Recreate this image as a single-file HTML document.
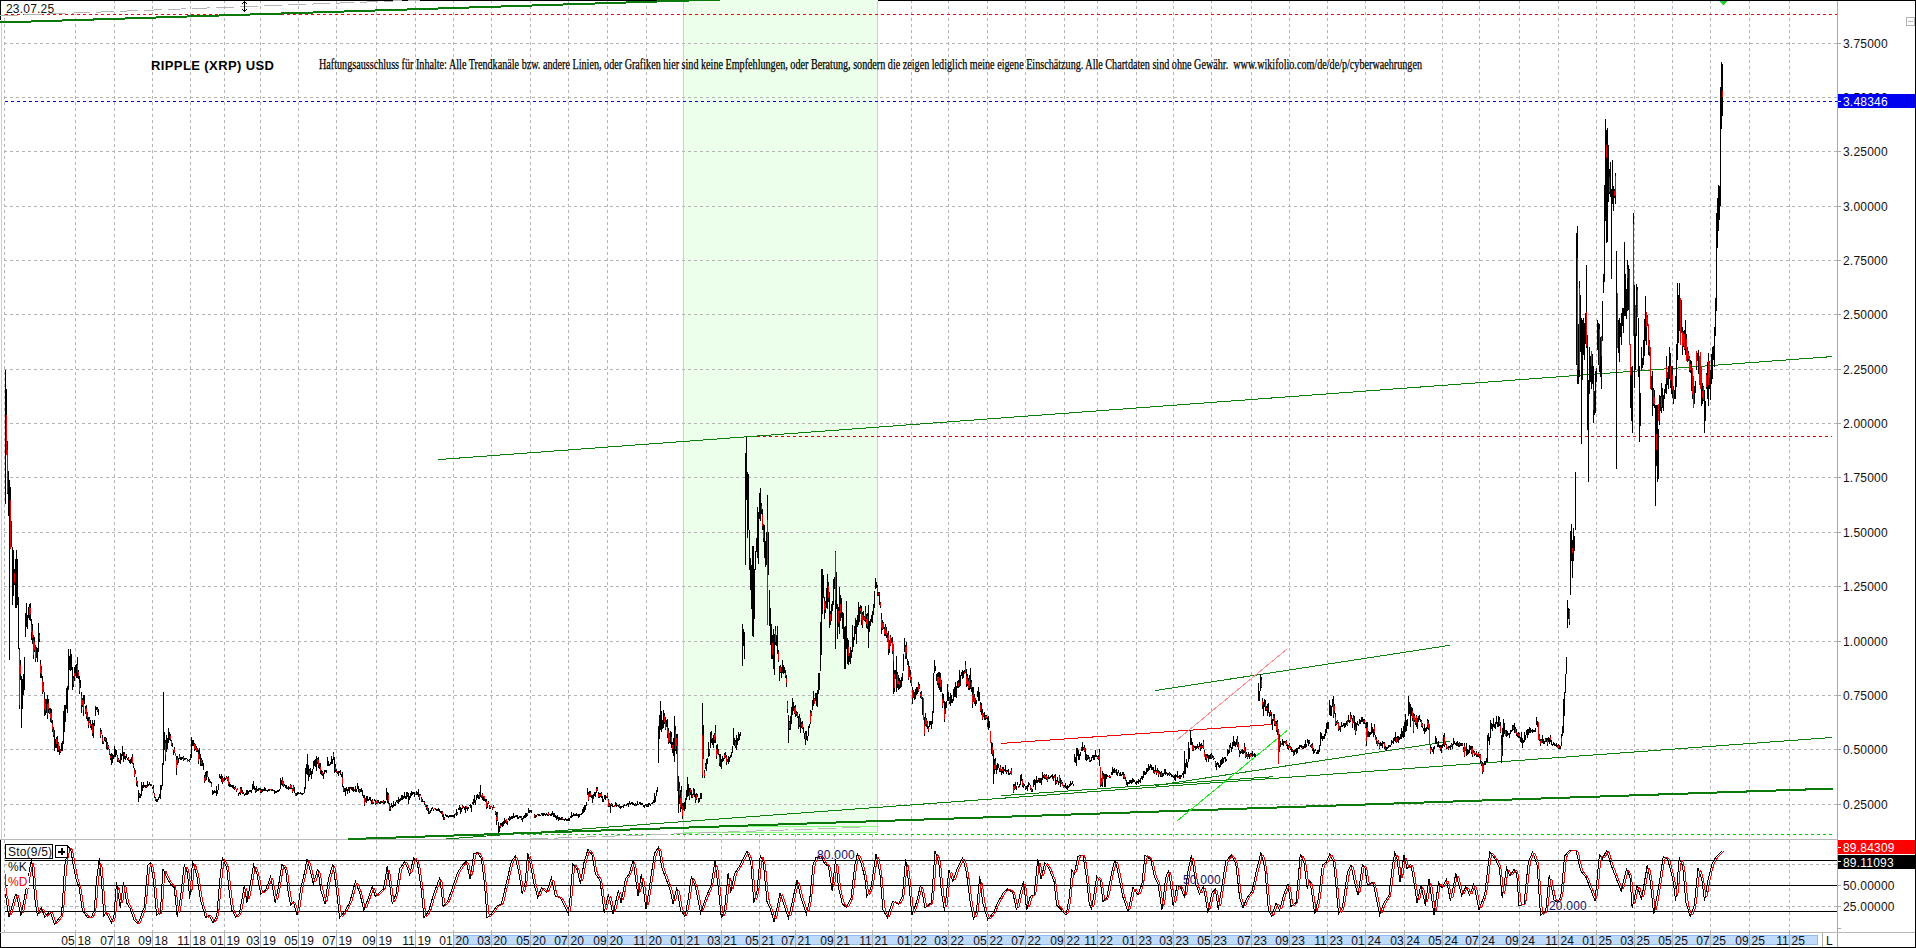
<!DOCTYPE html>
<html><head><meta charset="utf-8"><title>RIPPLE (XRP) USD</title>
<style>
html,body{margin:0;padding:0;background:#fff;}
body{width:1916px;height:948px;position:relative;overflow:hidden;font-family:"Liberation Sans",sans-serif;}
.t{position:absolute;font-family:"Liberation Sans",sans-serif;font-size:12px;line-height:14px;color:#111;white-space:pre;letter-spacing:0.2px;}
.t.w{color:#fff;}
</style></head><body>
<svg width="1916" height="948" viewBox="0 0 1916 948" style="position:absolute;left:0;top:0">
<rect width="1916" height="948" fill="#fff"/>
<g shape-rendering="crispEdges" stroke="#b4b4b4" stroke-width="1" fill="none">
<path d="M4.5 0V932 M75.5 0V932 M114.5 0V932 M152.5 0V932 M190.5 0V932 M224.5 0V932 M260.5 0V932 M298.5 0V932 M336.5 0V932 M376.5 0V932 M415.5 0V932 M453.5 0V932 M491.5 0V932 M530.5 0V932 M568.5 0V932 M607.5 0V932 M646.5 0V932 M684.5 0V932 M721.5 0V932 M759.5 0V932 M795.5 0V932 M834.5 0V932 M872.5 0V932 M911.5 0V932 M948.5 0V932 M987.5 0V932 M1025.5 0V932 M1064.5 0V932 M1097.5 0V932 M1136.5 0V932 M1173.5 0V932 M1211.5 0V932 M1251.5 0V932 M1289.5 0V932 M1327.5 0V932 M1365.5 0V932 M1404.5 0V932 M1442.5 0V932 M1479.5 0V932 M1519.5 0V932 M1558.5 0V932 M1596.5 0V932 M1634.5 0V932 M1672.5 0V932 M1710.5 0V932 M1749.5 0V932 M1789.5 0V932" stroke-dasharray="3 3"/>
</g>
<rect x="1" y="1" width="80" height="13" fill="#fff"/>
<rect x="683.5" y="-1" width="194" height="833" fill="#ebffeb" stroke="#8aff80" stroke-width="1" shape-rendering="crispEdges"/>
<g shape-rendering="crispEdges" stroke="#b4b4b4" stroke-width="1" fill="none">
<path d="M4 43.5H1837 M4 97.5H1837 M4 151.5H1837 M4 206.5H1837 M4 260.5H1837 M4 314.5H1837 M4 369.5H1837 M4 423.5H1837 M4 477.5H1837 M4 532.5H1837 M4 586.5H1837 M4 641.5H1837 M4 695.5H1837 M4 749.5H1837 M4 804.5H1837 M4 864.5H1837 M4 906.5H1837" stroke-dasharray="3 3"/>
</g>
<g shape-rendering="crispEdges">
<rect x="0" y="0" width="1916" height="1" fill="#000"/>
<rect x="683" y="0" width="195" height="1" fill="#ebffeb"/>
<rect x="1915" y="0" width="1" height="948" fill="#000"/>
<rect x="0" y="947" width="1916" height="1" fill="#000"/>
<rect x="0" y="0" width="1" height="20" fill="#000"/>
<rect x="0" y="840" width="1" height="108" fill="#000"/>
<rect x="1" y="20" width="1" height="819" fill="#8aff80"/>
<rect x="1837" y="1" width="1" height="946" fill="#a8a8a8"/>
<rect x="0" y="839" width="1837" height="1" fill="#b8b8b8"/>
<rect x="0" y="932" width="1915" height="1" fill="#b8b8b8"/>
</g>
<g shape-rendering="crispEdges" fill="none" stroke-width="1">
<path d="M5 14.5H1837" stroke="#f00" stroke-dasharray="3 3"/>
<path d="M5 101.5H1841" stroke="#0000e0" stroke-dasharray="3 3"/>
<path d="M757 436.5H1832" stroke="#e00000" stroke-dasharray="3 3"/>
<path d="M521 834.5H1832" stroke="#00d000" stroke-dasharray="3 3"/>
</g>
<path d="M0 15.8L420 0" stroke="#b4b4b4" stroke-width="1" stroke-dasharray="18 6" fill="none" shape-rendering="crispEdges"/>
<path d="M530 839L864 827.2" stroke="#b8b8b8" stroke-width="1" stroke-dasharray="18 6" fill="none" shape-rendering="crispEdges"/>
<path d="M749 826.5H877" stroke="#8aff80" stroke-width="1" fill="none" shape-rendering="crispEdges"/>
<line x1="0" y1="22.5" x2="751.2" y2="-1.5" stroke="#0a7a0a" stroke-width="2" shape-rendering="crispEdges" />
<line x1="438" y1="459.6" x2="1832" y2="356.6" stroke="#0a7f0a" stroke-width="1" shape-rendering="crispEdges" />
<line x1="348" y1="839.13" x2="1833" y2="788.57" stroke="#0a7a0a" stroke-width="2" shape-rendering="crispEdges" />
<line x1="446" y1="838.97" x2="1832" y2="737.5" stroke="#0a7f0a" stroke-width="1" shape-rendering="crispEdges" />
<line x1="1155" y1="690.6" x2="1450" y2="645.3" stroke="#0a7f0a" stroke-width="1" shape-rendering="crispEdges" />
<line x1="1155" y1="785.6" x2="1450" y2="741.3" stroke="#0a7f0a" stroke-width="1" shape-rendering="crispEdges" />
<line x1="1001" y1="795.7" x2="1273" y2="776.7" stroke="#0a7f0a" stroke-width="1.0" shape-rendering="crispEdges" />
<line x1="1001" y1="743.4" x2="1273" y2="724.4" stroke="#f00000" stroke-width="1" shape-rendering="crispEdges" />
<line x1="1177" y1="740" x2="1287" y2="649" stroke="#ff8c8c" stroke-width="1" shape-rendering="crispEdges" />
<line x1="1177" y1="821" x2="1287" y2="730.7" stroke="#10f010" stroke-width="1" shape-rendering="crispEdges" />
<g shape-rendering="crispEdges" fill="none" stroke-width="1">
<path d="M5.5 369.6V504.4 M6.5 388.6V454.4 M7.5 440.6V494.4 M8.5 470.6V516.4 M9.5 480.1V660.4 M10.5 486.6V548.4 M12.5 546.6V605.4 M13.5 549.6V595.9 M15.5 559.1V608.4 M16.5 549.6V608.4 M18.5 597.1V649.4 M19.5 647.6V709.4 M21.5 676.1V728.4 M22.5 679.3V709.4 M24.5 657.2V690.4 M25.5 612.6V637.0 M26.5 603.4V627.4 M28.5 606.6V618.0 M30.5 603.4V621.2 M31.5 619.2V640.1 M33.5 634.6V659.1 M35.5 644.6V662.3 M37.5 647.6V662.3 M38.5 623.3V652.4 M40.5 660.3V678.1 M42.5 676.1V693.9 M44.5 691.6V716.0 M47.5 695.1V719.2 M50.5 707.6V722.4 M52.5 720.4V731.9 M54.5 729.6V750.8 M57.5 736.2V752.4 M59.5 745.6V755.4 M61.5 742.6V750.8 M63.5 710.6V744.4 M65.5 704.6V722.4 M67.5 685.6V712.9 M68.5 649.3V690.4 M70.5 649.3V671.4 M72.5 666.6V690.4 M74.5 666.6V681.4 M76.5 663.5V678.1 M77.5 657.2V678.1 M79.5 676.1V693.9 M81.5 691.6V712.9 M83.5 695.1V716.0 M86.5 704.6V719.2 M88.5 717.2V728.4 M90.5 720.4V728.4 M92.5 720.4V736.4 M94.5 720.3V725.5 M11.5 520.5V547.3 M14.5 568.6V584.5 M17.5 559.3V605.2 M20.5 659.6V679.5 M23.5 674.2V694.7 M27.5 614.9V628.6 M29.5 603.6V619.9 M32.5 624.2V643.6 M34.5 637.3V652.3 M36.5 647.4V657.7 M39.5 632.5V641.6 M41.5 666.4V677.5 M43.5 681.6V692.4 M45.5 698.9V715.1 M46.5 698.8V712.6 M48.5 699.0V713.0 M49.5 707.6V714.4 M51.5 709.1V722.6 M53.5 726.9V737.0 M55.5 739.0V748.2 M56.5 737.0V747.5 M58.5 741.5V751.8 M60.5 749.1V752.5 M62.5 740.5V750.9 M64.5 704.5V732.4 M66.5 687.8V708.8 M69.5 655.7V670.2 M71.5 654.4V670.4 M73.5 675.8V687.0 M75.5 665.4V676.0 M78.5 669.6V679.4 M80.5 680.4V687.5 M82.5 698.2V707.1 M84.5 695.3V704.1 M85.5 705.5V714.0 M87.5 712.1V720.7 M89.5 716.6V723.4 M91.5 723.9V730.3 M93.5 722.8V737.5 M95.5 706.2V716.0 M98.5 709.2V714.5 M96.5 706.7V710.1 M97.5 706.6V712.3 M100.5 728.3V738.2 M102.5 734.6V744.4 M106.5 737.6V749.2 M109.5 748.6V755.4 M112.5 753.6V763.4 M114.5 745.6V757.1 M117.5 755.2V761.9 M120.5 752.9V763.5 M122.5 745.6V756.2 M123.5 751.5V762.1 M125.5 756.4V760.1 M128.5 757.2V760.8 M130.5 758.8V763.7 M132.5 754.4V764.3 M133.5 763.2V768.1 M134.5 767.6V776.8 M136.5 776.6V786.4 M137.5 781.0V787.2 M138.5 789.9V801.9 M139.5 792.7V797.5 M141.5 781.6V796.0 M143.5 782.4V788.0 M145.5 785.1V788.2 M147.5 780.9V786.5 M149.5 782.2V785.3 M151.5 783.6V786.1 M153.5 785.4V793.1 M154.5 792.7V797.5 M155.5 797.0V800.6 M156.5 799.1V801.6 M158.5 796.9V800.0 M160.5 785.4V799.0 M161.5 785.2V789.6 M162.5 763.3V785.7 M163.5 691.6V765.0 M164.5 732.3V750.3 M165.5 739.6V760.6 M166.5 734.5V751.7 M167.5 738.2V748.8 M168.5 727.8V742.9 M169.5 731.5V739.9 M171.5 739.6V745.8 M172.5 743.1V746.8 M173.5 750.4V754.9 M175.5 752.7V756.4 M176.5 755.9V775.4 M177.5 755.9V765.0 M179.5 754.3V759.2 M181.5 757.1V760.2 M183.5 755.8V760.7 M185.5 757.7V760.3 M187.5 759.3V762.4 M189.5 758.6V761.7 M190.5 754.3V760.0 M191.5 736.6V757.7 M192.5 739.6V745.8 M194.5 742.6V751.0 M195.5 744.1V750.3 M196.5 745.6V751.7 M198.5 750.0V763.6 M199.5 747.8V759.1 M200.5 754.4V765.8 M202.5 760.3V766.4 M203.5 763.3V770.2 M204.5 775.1V782.8 M205.5 772.1V781.3 M206.5 771.4V779.8 M208.5 776.5V782.1 M209.5 779.4V783.0 M211.5 782.4V787.3 M101.5 729.9V734.0 M103.5 740.5V744.0 M104.5 737.1V741.3 M105.5 736.6V742.2 M107.5 742.0V750.1 M108.5 745.2V748.5 M110.5 753.9V760.3 M111.5 752.7V764.6 M113.5 754.9V758.5 M115.5 749.2V757.4 M116.5 749.9V754.7 M118.5 758.2V762.2 M119.5 759.8V762.6 M121.5 754.0V759.9 M124.5 751.9V758.5 M126.5 754.2V758.0 M127.5 758.2V760.1 M129.5 760.1V762.5 M131.5 757.3V762.7 M135.5 769.8V773.9 M140.5 794.0V797.7 M142.5 785.2V791.4 M144.5 785.3V787.2 M146.5 785.2V788.0 M148.5 783.6V786.0 M150.5 783.9V786.1 M152.5 786.8V789.4 M157.5 798.8V802.3 M159.5 794.1V797.8 M170.5 734.3V740.9 M174.5 746.6V753.0 M178.5 757.5V763.2 M180.5 757.3V759.8 M182.5 757.0V758.7 M184.5 757.6V759.7 M186.5 757.8V759.4 M188.5 759.8V761.4 M193.5 740.4V745.7 M197.5 748.0V752.4 M201.5 758.0V765.5 M207.5 771.4V777.2 M210.5 780.5V783.3 M212.5 790.4V794.8 M214.5 790.3V793.4 M216.5 786.2V796.0 M218.5 783.9V789.5 M213.5 791.4V793.9 M215.5 791.0V792.8 M217.5 789.8V794.0 M219.5 773.5V778.4 M221.5 774.4V782.0 M222.5 775.8V784.2 M224.5 776.5V781.4 M226.5 776.3V779.4 M228.5 775.8V785.7 M230.5 784.3V786.8 M232.5 785.0V787.6 M234.5 787.2V789.8 M237.5 788.0V789.8 M238.5 792.5V795.6 M240.5 786.9V794.6 M242.5 790.4V794.0 M244.5 793.9V795.7 M246.5 789.8V794.7 M248.5 790.9V793.5 M251.5 790.2V792.8 M252.5 783.9V789.5 M254.5 786.0V789.6 M256.5 786.1V791.7 M258.5 788.0V790.5 M261.5 788.9V792.6 M263.5 788.7V790.5 M266.5 789.5V791.3 M269.5 788.7V790.8 M272.5 789.2V790.8 M274.5 790.4V794.0 M276.5 790.9V792.8 M278.5 790.2V792.0 M280.5 778.0V789.4 M282.5 776.6V785.7 M283.5 780.9V786.5 M286.5 785.2V788.9 M288.5 786.0V789.6 M290.5 783.9V788.8 M292.5 787.5V793.2 M295.5 792.6V796.2 M297.5 792.4V795.0 M300.5 792.4V794.2 M303.5 792.7V794.2 M304.5 786.9V793.1 M305.5 767.6V788.7 M307.5 754.4V775.4 M308.5 764.8V781.3 M310.5 767.6V775.4 M311.5 770.6V779.1 M313.5 761.1V769.4 M315.5 758.9V767.3 M316.5 755.9V770.9 M318.5 757.4V768.0 M320.5 763.3V773.9 M322.5 770.5V775.5 M324.5 770.3V773.5 M326.5 769.6V772.7 M327.5 757.4V766.4 M329.5 763.6V766.2 M331.5 755.9V763.6 M333.5 751.5V759.9 M334.5 757.4V773.2 M336.5 769.0V773.4 M338.5 770.5V776.2 M340.5 769.6V775.4 M342.5 771.6V787.1 M343.5 786.2V792.4 M345.5 788.3V795.9 M349.5 787.1V792.5 M353.5 787.0V791.5 M358.5 786.2V792.4 M362.5 790.3V795.5 M364.5 794.6V805.9 M367.5 796.4V800.9 M372.5 798.5V803.9 M376.5 800.5V804.1 M380.5 800.5V803.7 M384.5 800.5V803.7 M386.5 787.9V799.6 M388.5 792.5V803.8 M389.5 802.9V811.1 M391.5 802.7V807.1 M395.5 801.7V806.1 M398.5 796.6V803.8 M401.5 795.4V799.8 M404.5 792.4V797.5 M408.5 792.5V803.8 M411.5 791.2V795.6 M414.5 792.3V796.6 M418.5 789.3V797.4 M421.5 797.4V801.9 M424.5 800.6V805.0 M426.5 804.9V810.1 M428.5 808.1V814.2 M431.5 807.8V810.7 M435.5 808.2V810.4 M439.5 808.8V811.5 M442.5 811.1V816.5 M443.5 814.3V819.5 M447.5 815.0V817.1 M451.5 815.4V817.1 M454.5 814.1V817.7 M456.5 809.2V816.4 M459.5 804.9V810.1 M462.5 804.8V809.2 M467.5 806.9V811.3 M470.5 803.7V808.2 M473.5 798.6V804.8 M476.5 795.4V799.8 M478.5 795.3V798.7 M480.5 784.6V797.4 M482.5 792.5V799.6 M484.5 795.5V800.8 M486.5 798.6V809.0 M490.5 805.7V809.3 M493.5 804.7V808.3 M495.5 810.9V814.5 M496.5 812.3V824.7 M498.5 821.6V833.0 M500.5 823.4V828.0 M503.5 820.5V825.8 M506.5 818.5V823.7 M509.5 816.3V820.6 M513.5 813.1V817.6 M517.5 815.1V818.7 M521.5 816.2V819.7 M525.5 813.1V817.6 M528.5 807.5V813.2 M531.5 809.8V812.5 M220.5 775.7V779.2 M223.5 778.2V782.4 M225.5 777.8V780.4 M227.5 777.2V780.5 M229.5 782.4V786.8 M231.5 785.2V786.8 M233.5 785.3V788.7 M235.5 785.6V788.9 M236.5 788.5V791.7 M239.5 791.9V794.2 M241.5 786.6V792.5 M243.5 791.8V793.7 M245.5 793.1V794.8 M247.5 790.4V795.3 M249.5 790.3V792.1 M250.5 790.1V791.7 M253.5 781.3V788.7 M255.5 787.9V793.1 M257.5 789.0V790.9 M259.5 788.4V790.0 M260.5 788.3V793.3 M262.5 788.6V791.6 M264.5 787.4V790.5 M265.5 788.3V791.3 M267.5 789.9V791.5 M268.5 789.3V790.9 M270.5 788.5V790.1 M271.5 788.6V790.9 M273.5 789.8V791.4 M275.5 790.5V792.8 M277.5 789.8V792.3 M279.5 789.4V791.0 M281.5 780.2V784.7 M284.5 784.0V786.2 M285.5 785.1V787.9 M287.5 786.7V789.0 M289.5 787.2V789.4 M291.5 785.2V788.6 M293.5 784.6V790.5 M294.5 787.0V792.6 M296.5 793.2V795.7 M298.5 792.4V794.0 M299.5 792.6V794.2 M301.5 793.1V794.7 M302.5 793.2V794.8 M306.5 763.8V773.8 M309.5 768.8V776.9 M312.5 769.0V773.9 M314.5 759.7V765.9 M317.5 757.5V764.1 M319.5 763.1V769.2 M321.5 769.8V775.4 M323.5 773.0V778.5 M325.5 769.6V771.7 M328.5 760.5V766.1 M330.5 762.2V764.6 M332.5 759.0V763.5 M335.5 763.5V772.1 M337.5 770.9V774.2 M339.5 770.6V772.7 M341.5 774.0V777.0 M344.5 788.1V792.3 M346.5 787.1V791.4 M347.5 788.7V793.5 M348.5 786.6V790.7 M350.5 786.9V789.3 M351.5 786.7V790.3 M352.5 787.4V791.4 M354.5 788.5V791.3 M355.5 785.9V791.5 M356.5 788.9V791.5 M357.5 782.7V789.1 M359.5 788.5V792.7 M360.5 789.2V792.2 M361.5 788.3V791.6 M363.5 795.0V797.8 M365.5 798.0V801.6 M366.5 795.9V802.6 M368.5 799.2V801.2 M369.5 796.6V799.7 M370.5 796.6V800.7 M371.5 800.4V803.6 M373.5 801.7V804.0 M374.5 799.3V801.0 M375.5 800.2V804.7 M377.5 799.7V804.0 M378.5 800.0V802.6 M379.5 801.9V804.3 M381.5 801.0V802.7 M382.5 800.7V802.8 M383.5 800.3V804.3 M385.5 800.7V803.1 M387.5 792.2V803.3 M390.5 805.5V811.4 M392.5 804.7V807.6 M393.5 800.8V806.6 M394.5 803.7V806.3 M396.5 799.7V802.3 M397.5 800.0V802.6 M399.5 798.9V802.1 M400.5 797.9V800.6 M402.5 795.2V800.1 M403.5 796.4V798.6 M405.5 795.7V798.5 M406.5 792.2V799.3 M407.5 792.2V796.7 M409.5 795.7V800.4 M410.5 792.7V798.4 M412.5 791.8V794.5 M413.5 792.3V794.0 M415.5 793.5V795.3 M416.5 790.8V795.1 M417.5 791.8V794.9 M419.5 793.6V799.5 M420.5 794.3V796.4 M422.5 798.8V802.3 M423.5 800.5V802.1 M425.5 803.6V807.1 M427.5 805.0V810.7 M429.5 810.6V814.4 M430.5 809.5V812.5 M432.5 807.4V809.2 M433.5 809.3V810.9 M434.5 807.8V809.4 M436.5 808.9V811.3 M437.5 808.9V810.5 M438.5 808.0V810.8 M440.5 811.0V812.8 M441.5 810.6V814.0 M444.5 817.2V819.6 M445.5 814.2V816.2 M446.5 815.1V817.2 M448.5 815.9V817.5 M449.5 815.1V816.7 M450.5 815.0V816.6 M452.5 815.4V817.0 M453.5 814.6V816.8 M455.5 813.0V815.2 M457.5 812.1V815.4 M458.5 807.5V810.2 M460.5 807.3V813.7 M461.5 807.8V811.9 M463.5 805.9V807.6 M464.5 806.6V810.1 M465.5 805.8V812.9 M466.5 805.5V808.7 M468.5 806.5V808.9 M469.5 804.5V806.4 M471.5 805.0V811.7 M472.5 801.5V804.1 M474.5 794.9V802.7 M475.5 799.6V805.2 M477.5 794.4V797.7 M479.5 791.5V798.5 M481.5 794.5V798.2 M483.5 796.3V800.9 M485.5 799.2V802.0 M487.5 803.2V807.8 M488.5 800.7V804.4 M489.5 804.6V809.1 M491.5 805.8V807.4 M492.5 806.6V809.6 M494.5 806.7V808.4 M497.5 811.9V821.2 M499.5 825.6V831.9 M501.5 823.1V826.2 M502.5 821.8V826.7 M504.5 818.0V823.8 M505.5 819.9V823.2 M507.5 820.6V824.7 M508.5 817.6V819.6 M510.5 816.6V819.6 M511.5 816.4V818.9 M512.5 815.8V819.0 M514.5 815.9V817.6 M515.5 814.5V817.0 M516.5 815.0V816.7 M518.5 817.3V818.9 M519.5 816.2V818.0 M520.5 815.9V818.0 M522.5 817.5V822.1 M523.5 816.4V819.3 M524.5 814.9V818.3 M526.5 812.9V816.8 M527.5 812.9V815.7 M529.5 810.2V812.8 M530.5 810.1V811.9 M534.5 814.1V817.7 M539.5 814.0V816.3 M543.5 813.2V815.7 M548.5 812.0V815.6 M553.5 813.3V816.7 M557.5 815.1V818.7 M562.5 817.2V819.8 M566.5 818.8V820.8 M569.5 818.2V820.8 M571.5 812.3V818.4 M575.5 814.0V816.3 M579.5 814.1V816.7 M582.5 809.1V814.3 M585.5 804.9V810.1 M586.5 802.3V806.1 M535.5 814.7V818.0 M536.5 815.1V816.7 M537.5 813.7V815.3 M538.5 813.9V815.7 M540.5 814.7V816.3 M541.5 813.3V814.9 M542.5 813.0V815.7 M544.5 813.3V815.1 M545.5 814.3V815.9 M546.5 812.8V814.8 M547.5 813.8V816.4 M549.5 813.7V815.3 M550.5 814.4V816.0 M551.5 812.8V815.5 M552.5 810.7V814.8 M554.5 812.8V817.3 M555.5 814.7V818.2 M556.5 816.0V820.2 M558.5 816.8V820.9 M559.5 817.1V819.8 M560.5 817.9V819.5 M561.5 817.2V819.5 M563.5 818.5V820.1 M564.5 818.9V820.5 M565.5 818.2V819.8 M567.5 818.7V821.4 M568.5 818.0V821.1 M570.5 815.5V818.3 M572.5 814.6V816.9 M573.5 813.1V816.2 M574.5 813.8V816.2 M576.5 812.8V815.9 M577.5 814.0V815.6 M578.5 814.3V817.6 M580.5 813.5V815.1 M581.5 812.9V814.5 M583.5 807.3V813.0 M584.5 804.5V811.5 M587.5 788.3V795.4 M590.5 791.3V796.5 M593.5 793.5V799.2 M595.5 792.3V796.6 M596.5 787.2V793.4 M599.5 793.3V797.6 M602.5 795.6V801.7 M605.5 795.4V799.8 M607.5 792.5V798.4 M608.5 798.6V806.9 M612.5 803.6V807.2 M616.5 802.7V806.5 M620.5 805.7V809.3 M623.5 804.7V808.3 M627.5 802.5V805.2 M632.5 802.2V805.1 M636.5 803.6V806.2 M640.5 801.6V805.1 M644.5 804.7V807.7 M648.5 802.7V806.5 M652.5 801.5V804.2 M654.5 792.5V802.7 M656.5 790.3V795.5 M657.5 787.1V792.4 M588.5 792.4V801.3 M589.5 791.3V796.5 M591.5 795.2V797.6 M592.5 794.7V803.4 M594.5 791.9V796.3 M597.5 786.7V791.3 M598.5 792.3V798.2 M600.5 793.1V796.8 M601.5 792.4V797.8 M603.5 799.1V801.7 M604.5 794.8V799.0 M606.5 795.9V797.9 M609.5 803.0V807.1 M610.5 803.5V812.6 M611.5 802.6V805.9 M613.5 805.6V807.4 M614.5 804.7V806.7 M615.5 801.8V806.3 M617.5 804.5V806.4 M618.5 805.0V807.4 M619.5 804.4V808.4 M621.5 806.4V808.4 M622.5 805.5V807.1 M624.5 804.2V805.8 M625.5 804.5V806.1 M626.5 804.2V806.2 M628.5 802.9V806.8 M629.5 800.5V803.9 M630.5 803.2V805.4 M631.5 801.9V803.5 M633.5 802.7V804.6 M634.5 804.3V806.0 M635.5 802.9V806.2 M637.5 801.1V804.8 M638.5 803.5V805.1 M639.5 802.3V803.9 M641.5 803.1V805.2 M642.5 803.3V804.9 M643.5 805.3V806.9 M645.5 803.8V806.0 M646.5 804.3V806.7 M647.5 803.5V807.2 M649.5 803.2V804.8 M650.5 803.6V806.0 M651.5 802.8V804.4 M653.5 799.7V803.2 M655.5 796.4V802.2 M658.5 725.6V763.1 M660.5 700.6V730.4 M661.5 710.6V732.4 M663.5 709.6V728.4 M665.5 717.3V730.4 M667.5 719.4V738.0 M668.5 727.6V744.4 M671.5 731.6V748.4 M673.5 738.2V755.8 M674.5 715.6V762.0 M675.5 725.6V751.4 M677.5 734.0V791.3 M678.5 775.6V813.2 M679.5 782.0V803.8 M680.5 790.4V812.1 M682.5 802.9V818.8 M683.5 802.9V810.0 M685.5 797.6V809.0 M687.5 777.4V797.4 M689.5 788.3V799.6 M691.5 790.4V798.4 M694.5 789.3V797.4 M696.5 792.5V799.6 M698.5 797.5V802.8 M701.5 793.2V799.0 M659.5 714.6V739.3 M662.5 719.7V728.6 M664.5 713.3V724.3 M666.5 719.6V726.9 M669.5 733.2V743.4 M670.5 731.4V744.2 M672.5 742.0V752.9 M676.5 734.1V753.6 M681.5 785.6V808.7 M684.5 801.8V811.1 M686.5 789.5V800.4 M688.5 784.3V795.9 M690.5 787.6V794.6 M692.5 793.8V798.0 M693.5 788.2V794.5 M695.5 793.9V803.3 M697.5 793.9V796.6 M699.5 798.2V802.3 M700.5 793.4V799.4 M702.5 702.6V778.1 M704.5 769.6V778.1 M706.5 758.6V771.4 M708.5 742.2V757.4 M711.5 730.6V743.4 M713.5 735.2V747.9 M715.5 724.6V743.4 M716.5 744.6V759.4 M719.5 753.6V766.4 M722.5 756.1V761.9 M724.5 752.6V759.4 M728.5 756.1V764.4 M731.5 751.6V757.4 M733.5 728.2V745.4 M736.5 735.2V750.4 M738.5 731.6V741.0 M740.5 732.3V735.7 M703.5 725.1V758.7 M705.5 763.2V768.9 M707.5 758.0V764.2 M709.5 748.6V755.6 M710.5 731.5V748.3 M712.5 738.2V744.9 M714.5 733.1V743.2 M717.5 744.0V754.4 M718.5 749.3V754.8 M720.5 753.5V766.9 M721.5 758.7V768.7 M723.5 758.2V761.4 M725.5 752.4V758.0 M726.5 754.9V764.7 M727.5 758.7V761.7 M729.5 756.8V762.4 M730.5 754.6V758.4 M732.5 745.8V753.3 M734.5 738.3V745.7 M735.5 739.8V747.8 M737.5 737.7V745.1 M739.5 733.8V739.7 M742.5 623.6V666.4 M744.5 631.6V659.4 M743.5 629.0V645.6 M745.5 453.1V565.4 M746.5 436.6V500.4 M748.5 473.6V530.4 M749.5 529.6V570.4 M750.5 557.6V590.0 M752.5 545.6V636.4 M755.5 550.6V570.4 M757.5 506.6V558.4 M760.5 487.6V521.4 M762.5 508.6V530.4 M764.5 524.6V558.4 M766.5 531.6V565.4 M767.5 494.6V624.9 M769.5 589.6V625.9 M770.5 607.6V645.4 M771.5 623.6V659.4 M773.5 628.6V669.4 M775.5 625.6V645.4 M777.5 625.6V654.4 M779.5 665.6V681.4 M782.5 659.6V673.4 M785.5 670.2V678.4 M786.5 674.6V687.4 M747.5 472.1V537.8 M751.5 565.1V609.2 M753.5 546.2V636.6 M754.5 569.0V618.7 M756.5 537.6V551.7 M758.5 512.0V563.6 M759.5 493.4V519.4 M761.5 503.4V513.7 M763.5 524.1V542.0 M765.5 540.6V567.4 M768.5 532.1V575.1 M772.5 635.2V659.1 M774.5 634.3V674.7 M776.5 635.0V646.4 M778.5 649.8V661.5 M780.5 665.3V673.2 M781.5 667.0V677.6 M783.5 665.3V674.3 M784.5 667.2V672.8 M787.5 700.6V713.4 M788.5 714.6V743.4 M791.5 707.3V724.4 M792.5 698.1V715.4 M795.5 704.6V717.4 M799.5 714.3V727.0 M802.5 721.3V729.4 M805.5 730.6V745.1 M808.5 725.6V736.4 M810.5 709.6V724.4 M813.5 691.1V706.1 M816.5 693.4V706.1 M818.5 672.6V694.4 M820.5 621.6V671.4 M821.5 569.1V655.1 M822.5 569.1V614.4 M824.5 596.6V619.0 M827.5 573.6V609.4 M829.5 592.3V628.4 M831.5 603.6V621.4 M833.5 578.6V605.1 M835.5 550.6V649.4 M837.5 603.6V639.4 M839.5 586.6V634.4 M842.5 612.2V629.4 M843.5 613.2V639.4 M845.5 626.1V669.0 M847.5 637.6V664.4 M850.5 646.6V664.4 M852.5 624.6V652.4 M855.5 617.6V634.4 M858.5 601.6V624.9 M861.5 606.3V624.9 M865.5 606.3V622.4 M868.5 605.2V648.1 M871.5 614.6V622.4 M872.5 610.6V623.4 M874.5 591.2V608.4 M875.5 578.4V588.8 M877.5 585.4V595.8 M879.5 592.3V605.1 M881.5 613.4V634.2 M885.5 623.6V636.4 M888.5 630.6V655.1 M890.5 635.4V645.8 M893.5 644.6V694.4 M896.5 656.3V692.4 M898.5 674.6V689.9 M901.5 677.2V687.4 M903.5 653.6V671.4 M904.5 637.6V652.4 M906.5 642.4V659.4 M908.5 660.6V680.4 M910.5 670.2V682.9 M912.5 686.6V703.8 M915.5 688.6V699.4 M918.5 681.6V692.4 M921.5 691.1V699.4 M923.5 698.1V720.1 M924.5 716.6V736.4 M927.5 721.3V729.4 M931.5 721.3V729.4 M933.5 672.6V713.1 M934.5 659.6V673.4 M937.5 672.6V685.4 M940.5 672.6V692.4 M942.5 693.4V708.4 M944.5 700.6V722.4 M947.5 684.1V701.4 M950.5 693.4V706.1 M953.5 688.6V701.4 M955.5 681.6V696.9 M959.5 670.2V687.4 M962.5 670.2V679.4 M965.5 660.6V673.4 M966.5 669.1V687.4 M969.5 674.6V689.9 M972.5 686.6V708.4 M975.5 698.1V706.1 M978.5 686.6V701.4 M981.5 702.6V715.4 M984.5 711.6V720.1 M987.5 716.6V727.0 M988.5 715.6V730.1 M990.5 731.3V742.8 M991.5 741.6V754.4 M993.5 750.3V783.9 M994.5 758.6V774.4 M997.5 762.6V770.4 M1000.5 765.1V772.4 M1003.5 767.2V774.4 M1005.5 765.1V772.4 M1008.5 769.2V774.5 M1011.5 768.2V775.4 M789.5 720.7V730.2 M790.5 716.2V730.1 M793.5 702.2V710.9 M794.5 706.4V714.2 M796.5 710.8V716.1 M797.5 711.7V718.1 M798.5 716.0V728.9 M800.5 717.8V733.2 M801.5 721.8V727.8 M803.5 726.7V732.6 M804.5 732.5V738.5 M806.5 731.0V739.7 M807.5 735.7V740.5 M809.5 723.5V727.7 M811.5 711.4V716.3 M812.5 700.4V710.0 M814.5 698.1V704.2 M815.5 692.9V700.6 M817.5 689.8V706.9 M819.5 672.5V689.5 M823.5 574.5V598.1 M825.5 601.4V613.0 M826.5 587.6V607.8 M828.5 581.9V601.6 M830.5 610.6V624.6 M832.5 601.2V610.6 M834.5 576.8V588.8 M836.5 571.6V608.8 M838.5 606.8V627.0 M840.5 595.1V621.1 M841.5 597.5V618.3 M844.5 626.9V669.1 M846.5 600.7V648.5 M848.5 639.5V664.9 M849.5 652.7V661.9 M851.5 649.8V658.3 M853.5 636.9V646.7 M854.5 626.1V640.0 M856.5 619.5V643.9 M857.5 614.9V626.6 M859.5 606.9V622.4 M860.5 605.4V614.1 M862.5 611.9V628.0 M863.5 610.8V620.3 M864.5 615.7V621.2 M866.5 614.0V628.1 M867.5 612.8V628.9 M869.5 621.2V632.0 M870.5 619.3V625.8 M873.5 604.3V615.0 M876.5 581.7V587.6 M878.5 592.0V595.9 M880.5 601.6V608.2 M882.5 619.8V630.2 M883.5 622.1V629.3 M884.5 627.1V635.8 M886.5 627.1V638.4 M887.5 633.3V642.0 M889.5 639.8V652.5 M891.5 638.0V643.4 M892.5 637.0V654.2 M894.5 670.1V692.1 M895.5 669.9V678.6 M897.5 671.6V688.3 M899.5 677.8V688.9 M900.5 679.9V688.1 M902.5 673.1V680.5 M905.5 644.7V658.8 M907.5 659.1V665.2 M909.5 666.3V676.7 M911.5 676.5V685.8 M913.5 690.4V698.1 M914.5 692.3V699.8 M916.5 687.2V695.3 M917.5 686.6V694.3 M919.5 683.8V689.2 M920.5 692.4V698.0 M922.5 697.2V714.5 M925.5 712.9V726.0 M926.5 717.8V727.0 M928.5 725.8V731.8 M929.5 721.1V726.7 M930.5 721.1V724.6 M932.5 711.3V724.2 M935.5 666.3V671.3 M936.5 673.5V680.6 M938.5 671.5V688.1 M939.5 671.6V690.2 M941.5 680.3V691.8 M943.5 694.2V703.2 M945.5 701.5V713.6 M946.5 700.5V707.9 M948.5 691.6V701.2 M949.5 696.5V703.6 M951.5 694.5V703.3 M952.5 698.7V703.2 M954.5 687.3V696.8 M956.5 685.7V697.6 M957.5 680.9V688.3 M958.5 680.3V688.4 M960.5 675.2V686.1 M961.5 672.4V676.3 M963.5 671.2V677.6 M964.5 670.1V674.2 M967.5 674.0V686.4 M968.5 677.9V689.6 M970.5 667.7V688.6 M971.5 679.5V691.8 M973.5 687.1V702.0 M974.5 694.4V704.1 M976.5 699.9V704.2 M977.5 690.7V697.2 M979.5 691.8V701.3 M980.5 702.4V712.4 M982.5 708.8V719.8 M983.5 712.8V717.0 M985.5 714.5V720.0 M986.5 714.8V718.8 M989.5 721.4V728.1 M992.5 743.1V755.6 M995.5 758.0V770.3 M996.5 764.8V773.8 M998.5 763.6V768.4 M999.5 768.2V772.4 M1001.5 769.1V774.5 M1002.5 767.3V772.7 M1004.5 768.7V771.4 M1006.5 769.8V773.7 M1007.5 769.8V772.1 M1009.5 772.5V774.8 M1010.5 770.5V774.4 M1013.5 784.1V793.4 M1015.5 781.6V789.4 M1019.5 783.8V787.4 M1020.5 774.6V785.0 M1022.5 778.6V787.1 M1025.5 786.0V789.6 M1028.5 781.5V787.2 M1031.5 788.0V791.7 M1033.5 779.6V787.1 M1036.5 775.6V782.9 M1039.5 777.5V783.0 M1041.5 777.6V785.0 M1044.5 773.5V778.5 M1048.5 775.3V778.7 M1052.5 774.4V778.6 M1055.5 773.6V785.0 M1058.5 781.4V785.2 M1060.5 777.6V787.1 M1063.5 784.8V788.4 M1067.5 784.9V789.6 M1070.5 780.5V786.1 M1073.5 783.7V786.4 M1014.5 784.1V789.9 M1016.5 786.4V789.6 M1017.5 782.1V784.9 M1018.5 785.7V788.2 M1021.5 774.3V781.4 M1023.5 782.8V787.6 M1024.5 783.8V785.8 M1026.5 785.6V789.1 M1027.5 785.1V790.7 M1029.5 782.5V785.1 M1030.5 785.0V790.3 M1032.5 788.8V791.9 M1034.5 778.5V784.5 M1035.5 780.3V790.1 M1037.5 780.3V782.9 M1038.5 777.7V781.7 M1040.5 778.2V783.1 M1042.5 772.3V779.6 M1043.5 774.5V778.1 M1045.5 774.8V779.3 M1046.5 774.3V780.1 M1047.5 776.8V782.1 M1049.5 777.1V778.7 M1050.5 775.9V777.6 M1051.5 775.0V776.8 M1053.5 776.4V780.5 M1054.5 775.3V778.4 M1056.5 780.4V783.6 M1057.5 777.3V782.4 M1059.5 774.6V782.9 M1061.5 779.9V784.4 M1062.5 781.9V786.3 M1064.5 785.1V786.7 M1065.5 783.0V787.5 M1066.5 785.6V788.5 M1068.5 785.5V787.7 M1069.5 783.5V787.4 M1071.5 783.3V785.4 M1072.5 781.3V784.3 M1074.5 753.5V761.8 M1076.5 748.2V766.0 M1078.5 750.3V760.4 M1082.5 741.6V751.2 M1085.5 748.2V760.4 M1087.5 754.5V759.5 M1089.5 756.6V762.4 M1094.5 754.5V759.5 M1098.5 755.4V759.6 M1099.5 749.2V766.0 M1100.5 767.2V787.1 M1102.5 771.4V787.1 M1104.5 773.6V787.1 M1106.5 773.5V778.5 M1109.5 775.2V777.8 M1112.5 767.2V775.4 M1116.5 769.2V774.5 M1120.5 772.2V775.7 M1124.5 773.5V778.5 M1126.5 779.5V785.1 M1129.5 780.4V784.1 M1132.5 777.5V783.0 M1136.5 781.4V785.2 M1140.5 777.5V783.0 M1143.5 771.4V778.4 M1146.5 768.2V774.4 M1148.5 764.0V771.3 M1153.5 767.1V772.5 M1157.5 768.0V772.6 M1161.5 771.4V777.4 M1165.5 769.2V774.5 M1169.5 772.2V775.7 M1174.5 774.5V779.5 M1177.5 771.4V778.4 M1180.5 775.3V778.7 M1183.5 771.4V778.4 M1184.5 751.4V774.4 M1186.5 758.6V767.0 M1188.5 741.6V761.8 M1190.5 730.3V744.9 M1192.5 741.6V751.2 M1195.5 745.9V750.4 M1199.5 741.5V747.1 M1203.5 739.6V749.1 M1204.5 750.3V757.4 M1206.5 753.5V761.8 M1210.5 754.4V758.6 M1213.5 756.3V759.7 M1215.5 760.6V767.0 M1218.5 762.8V767.2 M1222.5 756.6V763.9 M1225.5 757.4V762.0 M1229.5 745.0V753.4 M1232.5 741.6V749.1 M1235.5 741.5V747.1 M1237.5 735.6V747.0 M1239.5 750.3V757.4 M1242.5 749.0V753.6 M1244.5 742.9V753.4 M1246.5 752.2V756.6 M1249.5 753.5V759.4 M1252.5 751.4V757.4 M1255.5 754.2V756.8 M1075.5 757.2V763.1 M1077.5 747.7V755.9 M1079.5 754.3V759.9 M1080.5 752.2V756.4 M1081.5 746.8V750.8 M1083.5 746.9V750.3 M1084.5 745.3V751.8 M1086.5 754.3V761.0 M1088.5 755.2V758.9 M1090.5 759.7V762.0 M1091.5 757.1V760.5 M1092.5 754.6V758.0 M1093.5 755.2V760.1 M1095.5 750.3V757.4 M1096.5 754.6V756.7 M1097.5 756.0V758.9 M1101.5 778.3V785.5 M1103.5 773.3V778.5 M1105.5 774.4V786.7 M1107.5 775.4V777.4 M1108.5 775.6V777.3 M1110.5 775.9V777.5 M1111.5 772.4V775.2 M1113.5 768.5V773.1 M1114.5 768.2V773.3 M1115.5 769.8V773.0 M1117.5 771.9V775.6 M1118.5 769.7V773.1 M1119.5 772.9V776.2 M1121.5 773.6V775.7 M1122.5 772.2V774.8 M1123.5 772.4V778.8 M1125.5 777.2V781.0 M1127.5 781.7V785.8 M1128.5 781.9V783.7 M1130.5 780.1V782.8 M1131.5 779.6V783.5 M1133.5 779.2V782.3 M1134.5 780.0V782.3 M1135.5 781.9V783.7 M1137.5 780.6V783.2 M1138.5 779.3V784.1 M1139.5 779.6V782.1 M1141.5 776.0V778.8 M1142.5 775.5V780.3 M1144.5 770.6V775.2 M1145.5 771.5V775.4 M1147.5 768.0V771.8 M1149.5 766.2V769.5 M1150.5 763.8V768.1 M1151.5 765.2V770.1 M1152.5 766.7V770.1 M1154.5 769.6V774.2 M1155.5 765.2V771.8 M1156.5 769.6V774.5 M1158.5 770.0V776.6 M1159.5 771.4V774.2 M1160.5 772.2V776.5 M1162.5 772.9V777.2 M1163.5 772.9V776.3 M1164.5 769.1V773.6 M1166.5 772.1V773.9 M1167.5 772.6V775.5 M1168.5 772.7V775.1 M1170.5 772.6V774.9 M1171.5 774.3V776.5 M1172.5 774.5V776.9 M1173.5 776.0V778.4 M1175.5 774.4V780.6 M1176.5 774.6V777.3 M1178.5 776.1V778.4 M1179.5 775.4V779.2 M1181.5 775.3V777.3 M1182.5 772.9V774.9 M1185.5 762.8V773.8 M1187.5 762.1V767.8 M1189.5 747.7V758.6 M1191.5 738.2V744.5 M1193.5 744.8V751.1 M1194.5 745.8V748.2 M1196.5 746.0V749.0 M1197.5 744.3V748.4 M1198.5 745.6V749.1 M1200.5 743.8V750.7 M1201.5 743.0V749.0 M1202.5 744.9V748.3 M1205.5 754.2V759.6 M1207.5 753.5V757.9 M1208.5 755.2V762.2 M1209.5 755.4V759.1 M1211.5 753.4V759.0 M1212.5 755.4V758.2 M1214.5 757.6V759.2 M1216.5 763.0V770.2 M1217.5 762.0V765.3 M1219.5 764.5V767.5 M1220.5 760.2V767.1 M1221.5 759.1V765.3 M1223.5 758.1V763.4 M1224.5 756.8V759.1 M1226.5 758.5V761.0 M1227.5 748.9V756.1 M1228.5 749.5V754.0 M1230.5 743.3V747.6 M1231.5 746.7V751.6 M1233.5 736.2V746.0 M1234.5 741.4V746.2 M1236.5 739.1V744.9 M1238.5 742.1V749.8 M1240.5 751.2V754.2 M1241.5 750.4V753.0 M1243.5 750.2V753.5 M1245.5 747.1V757.7 M1247.5 753.6V758.5 M1248.5 751.5V756.5 M1250.5 752.8V757.4 M1251.5 752.8V755.5 M1253.5 754.4V756.3 M1254.5 753.1V756.5 M1258.5 682.6V701.4 M1259.5 690.6V701.4 M1260.5 674.4V691.1 M1262.5 697.6V709.0 M1265.5 699.6V711.1 M1268.5 702.6V713.2 M1271.5 712.3V723.8 M1274.5 714.4V725.9 M1276.5 720.6V732.2 M1278.5 729.2V763.9 M1280.5 740.6V747.0 M1283.5 741.4V746.2 M1286.5 739.6V746.0 M1288.5 745.0V750.3 M1291.5 747.0V751.5 M1293.5 750.3V756.4 M1296.5 748.1V753.5 M1299.5 744.9V749.3 M1302.5 745.8V749.4 M1305.5 739.6V748.1 M1308.5 739.6V746.0 M1311.5 743.8V748.3 M1313.5 748.1V753.5 M1317.5 750.0V753.7 M1319.5 745.1V752.3 M1320.5 732.4V746.0 M1322.5 735.5V740.5 M1324.5 734.4V738.6 M1326.5 722.6V733.4 M1328.5 721.6V729.1 M1329.5 699.6V715.4 M1330.5 704.6V716.4 M1333.5 695.5V718.4 M1335.5 713.4V725.9 M1338.5 721.6V731.2 M1341.5 722.4V727.2 M1344.5 723.4V728.2 M1347.5 719.6V725.9 M1350.5 712.4V722.4 M1352.5 717.6V728.0 M1356.5 722.6V731.2 M1359.5 718.5V723.5 M1361.5 716.6V722.4 M1364.5 718.5V723.5 M1366.5 721.6V746.0 M1368.5 731.4V737.4 M1371.5 722.6V734.4 M1373.5 729.2V737.4 M1376.5 736.6V743.9 M1379.5 743.0V749.1 M1382.5 740.6V748.1 M1385.5 745.9V750.4 M1388.5 744.8V748.4 M1391.5 740.4V745.1 M1395.5 732.4V741.8 M1398.5 735.6V742.8 M1401.5 728.2V739.4 M1404.5 721.6V737.4 M1406.5 719.6V731.2 M1408.5 695.5V716.4 M1410.5 703.6V727.0 M1413.5 713.4V733.4 M1416.5 714.5V727.0 M1418.5 715.5V722.4 M1421.5 719.6V727.0 M1424.5 723.6V734.4 M1427.5 718.6V729.1 M1429.5 723.6V743.9 M1430.5 745.1V754.4 M1433.5 747.2V754.4 M1435.5 735.6V743.9 M1438.5 740.6V747.0 M1441.5 745.1V753.4 M1443.5 734.6V746.0 M1446.5 743.9V749.2 M1448.5 745.9V750.4 M1451.5 742.8V747.2 M1453.5 737.6V744.9 M1457.5 741.4V746.2 M1461.5 742.7V746.3 M1464.5 743.0V757.4 M1467.5 749.3V755.4 M1471.5 746.1V754.4 M1474.5 751.2V755.6 M1478.5 752.3V756.6 M1480.5 753.5V762.9 M1482.5 762.0V774.4 M1484.5 760.7V765.2 M1487.5 734.6V761.8 M1261.5 677.4V688.4 M1263.5 701.7V715.5 M1264.5 699.4V707.0 M1266.5 706.4V711.3 M1267.5 703.9V715.9 M1269.5 711.7V716.7 M1270.5 710.0V715.6 M1272.5 719.1V730.4 M1273.5 714.2V720.9 M1275.5 720.5V726.4 M1277.5 719.5V735.1 M1279.5 734.1V751.5 M1281.5 742.9V745.3 M1282.5 738.8V744.6 M1284.5 740.8V743.3 M1285.5 741.3V744.2 M1287.5 744.2V748.6 M1289.5 742.5V748.2 M1290.5 746.3V749.6 M1292.5 749.1V752.3 M1294.5 750.1V754.8 M1295.5 749.4V752.0 M1297.5 747.5V753.4 M1298.5 747.0V749.2 M1300.5 744.7V747.0 M1301.5 745.2V747.8 M1303.5 745.6V748.8 M1304.5 744.3V748.0 M1306.5 744.1V746.9 M1307.5 739.1V742.7 M1309.5 739.5V743.5 M1310.5 744.8V746.9 M1312.5 743.4V750.5 M1314.5 750.3V753.3 M1315.5 748.6V751.0 M1316.5 751.6V754.0 M1318.5 749.6V753.5 M1321.5 732.7V738.5 M1323.5 736.1V738.7 M1325.5 729.3V736.1 M1327.5 722.0V728.9 M1331.5 705.9V716.4 M1332.5 699.3V707.2 M1334.5 704.3V713.6 M1336.5 720.7V725.3 M1337.5 719.7V724.4 M1339.5 726.0V730.4 M1340.5 725.5V732.4 M1342.5 724.9V727.4 M1343.5 722.6V726.0 M1345.5 723.3V726.7 M1346.5 720.5V724.8 M1348.5 715.3V722.3 M1349.5 719.6V723.1 M1351.5 715.0V718.9 M1353.5 714.7V723.4 M1354.5 715.7V729.9 M1355.5 722.3V734.8 M1357.5 721.3V725.4 M1358.5 723.7V725.9 M1360.5 720.4V723.9 M1362.5 717.1V722.1 M1363.5 719.4V723.5 M1365.5 723.4V727.8 M1367.5 722.4V737.0 M1369.5 732.1V737.3 M1370.5 731.5V735.3 M1372.5 727.3V732.8 M1374.5 724.1V735.1 M1375.5 735.3V740.4 M1377.5 740.6V746.3 M1378.5 740.0V744.0 M1380.5 741.5V745.7 M1381.5 743.2V746.2 M1383.5 741.6V744.3 M1384.5 741.6V748.6 M1386.5 747.1V750.5 M1387.5 746.9V748.9 M1389.5 744.7V746.7 M1390.5 744.5V747.2 M1392.5 740.6V742.8 M1393.5 738.0V744.4 M1394.5 736.7V740.6 M1396.5 736.6V743.3 M1397.5 735.9V742.4 M1399.5 737.0V740.1 M1400.5 734.1V738.7 M1402.5 730.5V737.3 M1403.5 725.5V738.0 M1405.5 714.3V731.9 M1407.5 719.1V725.7 M1409.5 702.3V714.0 M1411.5 707.2V715.6 M1412.5 708.4V720.5 M1414.5 714.2V721.8 M1415.5 718.2V724.8 M1417.5 718.3V728.8 M1419.5 715.0V719.5 M1420.5 719.3V722.0 M1422.5 723.1V728.1 M1423.5 727.5V731.1 M1425.5 728.3V732.4 M1426.5 727.0V731.4 M1428.5 720.0V730.4 M1431.5 746.5V749.9 M1432.5 749.4V752.3 M1434.5 745.6V749.4 M1436.5 738.2V744.3 M1437.5 742.0V746.5 M1439.5 745.1V748.1 M1440.5 745.2V750.7 M1442.5 744.1V747.7 M1444.5 732.5V746.9 M1445.5 741.9V745.2 M1447.5 747.3V749.4 M1449.5 745.8V748.0 M1450.5 745.2V750.2 M1452.5 743.8V749.3 M1454.5 740.9V744.3 M1455.5 742.7V745.3 M1456.5 742.4V746.2 M1458.5 742.7V746.9 M1459.5 741.5V746.7 M1460.5 743.3V746.3 M1462.5 742.7V745.9 M1463.5 747.3V751.9 M1465.5 746.6V751.4 M1466.5 743.3V755.8 M1468.5 750.4V753.8 M1469.5 744.6V752.7 M1470.5 746.4V750.3 M1472.5 746.2V756.6 M1473.5 750.1V752.8 M1475.5 752.8V754.9 M1476.5 750.9V757.2 M1477.5 753.7V756.9 M1479.5 754.3V758.2 M1481.5 760.7V765.5 M1483.5 764.2V772.2 M1485.5 761.2V764.8 M1486.5 757.5V761.6 M1490.5 719.6V738.4 M1492.5 724.0V731.2 M1495.5 721.6V729.1 M1498.5 715.5V727.0 M1500.5 721.6V733.4 M1501.5 734.6V762.9 M1503.5 718.6V737.4 M1505.5 730.3V736.4 M1509.5 733.3V737.6 M1512.5 725.0V731.2 M1515.5 727.1V733.4 M1518.5 732.4V738.4 M1522.5 737.6V748.1 M1524.5 732.4V741.8 M1528.5 729.1V734.5 M1532.5 728.9V732.6 M1535.5 727.9V731.5 M1536.5 716.6V724.9 M1538.5 721.6V739.4 M1540.5 738.6V746.0 M1543.5 739.4V744.1 M1548.5 736.5V741.9 M1551.5 740.4V745.1 M1554.5 742.7V746.3 M1557.5 744.8V748.4 M1559.5 744.9V749.3 M1561.5 733.5V746.0 M1563.5 698.6V733.4 M1564.5 692.3V716.4 M1565.5 674.4V693.2 M1566.5 656.5V674.3 M1488.5 732.7V740.8 M1489.5 736.5V744.7 M1491.5 722.9V729.3 M1493.5 717.6V726.9 M1494.5 723.7V727.9 M1496.5 715.9V724.3 M1497.5 722.1V726.8 M1499.5 717.4V726.2 M1502.5 728.0V756.4 M1504.5 723.2V734.1 M1506.5 729.9V736.8 M1507.5 731.1V735.5 M1508.5 732.8V734.5 M1510.5 730.3V733.8 M1511.5 729.7V732.2 M1513.5 725.3V729.6 M1514.5 722.7V732.6 M1516.5 728.6V736.3 M1517.5 733.0V736.9 M1519.5 732.5V738.0 M1520.5 736.7V742.4 M1521.5 731.8V742.8 M1523.5 739.8V743.4 M1525.5 734.6V739.8 M1526.5 730.2V734.6 M1527.5 729.4V737.7 M1529.5 727.0V732.7 M1530.5 727.8V733.1 M1531.5 730.0V732.3 M1533.5 729.7V732.0 M1534.5 729.8V731.7 M1537.5 720.5V726.9 M1539.5 734.1V740.6 M1541.5 739.2V743.0 M1542.5 734.7V742.9 M1544.5 740.9V744.1 M1545.5 738.0V742.1 M1546.5 737.7V741.6 M1547.5 738.4V745.8 M1549.5 737.7V744.1 M1550.5 734.9V742.4 M1552.5 743.7V745.8 M1553.5 742.0V744.7 M1555.5 743.5V745.6 M1556.5 743.1V747.0 M1558.5 744.3V748.8 M1560.5 745.5V748.9 M1562.5 725.7V736.4 M1567.5 600.1V627.7 M1569.5 608.6V625.4 M1568.5 607.9V618.9 M1570.5 531.4V595.4 M1571.5 523.6V561.4 M1572.5 540.3V577.9 M1573.5 528.1V561.4 M1575.5 471.6V530.2 M1574.5 536.0V550.9 M1576.5 232.6V365.0 M1577.5 226.2V384.4 M1579.5 281.2V377.1 M1581.5 317.6V443.8 M1583.5 317.6V355.2 M1584.5 322.6V360.1 M1586.5 264.6V348.0 M1587.5 334.6V430.4 M1589.5 346.6V394.1 M1591.5 351.6V389.2 M1593.5 366.2V423.2 M1595.5 371.0V413.4 M1597.5 320.1V350.4 M1598.5 322.6V365.0 M1600.5 337.0V377.1 M1602.5 300.6V340.7 M1604.5 184.6V282.4 M1605.5 119.4V221.4 M1606.5 130.4V243.4 M1607.5 127.6V242.0 M1608.5 144.6V201.9 M1609.5 169.2V194.4 M1610.5 161.6V197.1 M1611.5 188.6V278.8 M1612.5 159.6V204.4 M1613.5 186.2V211.4 M1615.5 172.6V204.4 M1616.5 250.6V468.9 M1617.5 293.4V348.0 M1619.5 317.6V362.4 M1621.5 312.6V345.4 M1623.5 307.6V333.4 M1624.5 241.6V316.4 M1626.5 288.6V318.9 M1627.5 260.2V311.4 M1629.5 269.1V345.4 M1630.5 344.3V408.4 M1632.5 366.2V432.9 M1633.5 213.3V335.8 M1635.5 305.6V369.8 M1636.5 283.6V335.8 M1638.5 317.6V377.1 M1639.5 366.2V442.4 M1641.5 346.6V369.8 M1643.5 339.5V365.0 M1645.5 295.6V340.7 M1646.5 312.6V345.4 M1648.5 324.6V355.2 M1650.5 346.6V389.2 M1652.5 371.0V415.9 M1654.5 390.4V408.4 M1655.5 404.6V505.9 M1656.5 404.6V466.0 M1657.5 404.6V482.4 M1659.5 395.3V425.4 M1661.5 383.1V413.4 M1663.5 395.3V411.0 M1666.5 356.4V394.1 M1668.5 366.2V389.2 M1669.5 346.6V379.4 M1671.5 366.2V394.1 M1673.5 385.6V403.8 M1675.5 375.6V398.9 M1677.5 282.5V360.1 M1679.5 282.6V331.0 M1680.5 298.2V345.4 M1682.5 327.3V355.2 M1684.5 329.6V350.4 M1685.5 320.1V355.2 M1687.5 346.6V362.4 M1689.5 356.4V372.2 M1691.5 361.3V391.4 M1693.5 375.6V408.4 M1694.5 385.6V403.8 M1696.5 351.6V369.8 M1698.5 350.4V374.4 M1700.5 351.6V389.2 M1702.5 383.1V403.8 M1703.5 385.6V401.4 M1704.5 390.4V432.9 M1706.5 373.4V389.2 M1708.5 352.6V406.2 M1709.5 361.3V389.2 M1711.5 354.0V384.4 M1712.5 346.6V379.4 M1714.5 327.3V367.4 M1715.5 298.2V335.8 M1716.5 212.6V311.4 M1717.5 198.3V248.4 M1718.5 184.6V231.1 M1720.5 86.6V206.4 M1721.5 61.6V129.2 M1722.5 63.6V115.8 M1578.5 323.6V384.4 M1580.5 294.7V352.2 M1582.5 319.5V380.0 M1585.5 312.6V343.5 M1588.5 380.1V481.6 M1590.5 356.2V381.9 M1592.5 354.2V383.5 M1594.5 390.8V415.2 M1596.5 368.0V382.4 M1599.5 323.8V372.1 M1601.5 351.9V389.0 M1603.5 273.5V293.4 M1614.5 189.0V198.4 M1618.5 320.3V352.7 M1620.5 323.3V336.6 M1622.5 307.9V326.4 M1625.5 274.0V315.9 M1628.5 265.3V310.2 M1631.5 367.4V421.4 M1634.5 285.0V388.4 M1637.5 286.8V314.3 M1640.5 393.3V426.3 M1642.5 357.9V367.8 M1644.5 319.1V356.1 M1647.5 314.8V325.9 M1649.5 339.9V356.3 M1651.5 376.4V390.0 M1653.5 388.1V406.1 M1658.5 428.6V479.2 M1660.5 396.4V411.1 M1662.5 388.0V407.5 M1664.5 389.2V399.0 M1665.5 384.3V393.3 M1667.5 372.2V385.0 M1670.5 353.0V387.5 M1672.5 365.7V398.4 M1674.5 389.8V398.9 M1676.5 343.9V387.1 M1678.5 294.9V343.4 M1681.5 300.2V333.3 M1683.5 330.7V347.2 M1686.5 333.5V348.8 M1688.5 351.4V361.3 M1690.5 359.9V372.7 M1692.5 385.5V398.9 M1695.5 381.1V392.8 M1697.5 352.5V360.9 M1699.5 358.1V374.2 M1701.5 367.4V406.0 M1705.5 401.1V420.9 M1707.5 362.0V398.7 M1710.5 369.9V399.9 M1713.5 345.5V359.7 M1719.5 185.6V220.3" stroke="#000"/>
<path d="M14.5 572.5V582.9 M20.5 664.8V674.4 M29.5 607.0V615.2 M30.5 607.8V614.2 M31.5 625.3V632.1 M32.5 630.6V637.5 M33.5 639.8V655.4 M34.5 641.9V650.1 M35.5 649.1V659.4 M39.5 634.9V639.0 M40.5 664.3V673.2 M41.5 670.3V674.3 M42.5 681.3V691.7 M43.5 685.8V690.4 M44.5 699.3V708.7 M45.5 704.4V710.5 M47.5 704.1V715.0 M48.5 703.2V709.4 M49.5 710.1V712.6 M50.5 713.1V718.4 M51.5 712.9V720.5 M52.5 724.3V728.7 M53.5 730.2V734.7 M56.5 739.1V743.5 M58.5 743.3V750.0 M60.5 750.2V751.9 M73.5 678.4V684.3 M74.5 672.5V676.7 M77.5 664.8V673.2 M78.5 672.1V675.6 M79.5 682.6V691.1 M81.5 695.9V704.7 M82.5 700.4V704.8 M83.5 701.3V709.9 M85.5 708.7V712.0 M86.5 707.9V715.7 M87.5 714.6V718.1 M88.5 721.1V724.9 M89.5 719.0V721.9 M90.5 723.5V726.3 M92.5 724.5V733.1 M97.5 708.8V710.9 M100.5 731.5V736.2 M101.5 730.8V733.4 M102.5 738.3V741.1 M103.5 741.1V743.4 M105.5 738.4V740.4 M107.5 743.5V747.0 M108.5 745.7V748.0 M109.5 750.0V753.9 M110.5 755.8V758.0 M117.5 756.3V760.0 M118.5 759.0V761.3 M124.5 754.3V756.1 M128.5 758.0V759.8 M132.5 757.1V762.9 M133.5 764.6V766.3 M134.5 769.6V775.6 M136.5 780.3V782.6 M137.5 783.4V785.4 M139.5 793.5V796.1 M146.5 786.0V786.9 M151.5 784.3V785.2 M153.5 787.7V790.8 M154.5 794.2V795.8 M155.5 798.4V799.5 M165.5 743.4V755.1 M170.5 735.9V738.6 M171.5 740.9V744.9 M172.5 744.5V745.3 M174.5 748.8V751.5 M175.5 753.4V755.8 M176.5 760.1V767.8 M177.5 758.4V762.2 M179.5 755.7V757.6 M183.5 756.8V759.6 M185.5 758.5V759.8 M187.5 760.4V761.6 M189.5 759.8V760.8 M194.5 744.2V748.5 M195.5 745.3V748.2 M196.5 748.0V751.1 M198.5 753.7V761.3 M201.5 759.5V763.9 M204.5 777.6V780.5 M205.5 775.7V779.5 M207.5 773.4V776.5 M209.5 780.7V782.5 M211.5 784.1V786.5 M222.5 777.5V782.0 M223.5 779.4V781.9 M226.5 777.4V778.9 M227.5 778.4V780.0 M228.5 777.5V783.7 M234.5 787.9V788.8 M235.5 786.7V788.0 M236.5 789.3V790.7 M237.5 788.4V789.6 M240.5 788.6V793.1 M242.5 791.7V792.7 M244.5 794.5V795.1 M255.5 790.0V791.3 M259.5 788.8V789.9 M260.5 790.1V791.6 M270.5 789.0V789.7 M282.5 779.9V783.9 M283.5 782.4V785.5 M287.5 787.2V788.2 M290.5 785.3V787.7 M291.5 786.0V788.0 M292.5 788.8V792.2 M293.5 786.3V788.9 M295.5 793.9V795.5 M301.5 793.6V794.5 M309.5 770.6V773.8 M317.5 759.0V762.3 M318.5 759.7V765.0 M319.5 765.5V767.3 M320.5 767.3V771.1 M322.5 772.2V774.0 M333.5 754.1V757.2 M335.5 766.6V770.2 M336.5 770.7V772.0 M337.5 771.4V773.4 M340.5 771.6V773.3 M342.5 777.7V783.8 M343.5 788.3V790.7 M350.5 787.8V788.7 M354.5 789.1V790.2 M359.5 789.5V791.7 M364.5 798.2V803.9 M372.5 800.3V802.9 M375.5 801.6V804.0 M376.5 801.3V802.9 M377.5 801.1V803.5 M381.5 801.6V802.2 M382.5 801.4V802.1 M383.5 800.9V803.2 M388.5 794.8V801.4 M389.5 804.8V809.2 M390.5 807.5V809.4 M394.5 804.6V805.3 M397.5 800.8V802.1 M407.5 794.0V795.0 M415.5 793.9V794.7 M419.5 794.8V798.4 M420.5 794.7V795.9 M421.5 799.2V801.1 M424.5 802.1V803.3 M425.5 804.1V806.6 M426.5 806.5V808.4 M427.5 806.1V809.5 M429.5 811.2V813.1 M434.5 808.1V808.9 M442.5 812.1V815.2 M444.5 817.7V818.7 M455.5 813.4V814.7 M457.5 813.3V814.9 M462.5 805.8V808.3 M466.5 806.2V808.3 M479.5 793.4V796.6 M481.5 795.3V797.4 M482.5 794.4V797.1 M484.5 796.4V799.1 M486.5 801.2V807.3 M488.5 802.0V803.0 M489.5 806.4V808.4 M490.5 806.3V808.1 M492.5 807.6V809.2 M493.5 806.1V807.1 M494.5 807.0V808.1 M495.5 812.3V813.8 M496.5 816.7V820.3 M497.5 813.5V819.7 M500.5 825.1V826.9 M506.5 819.3V822.5 M509.5 817.7V818.9 M515.5 815.1V816.1 M519.5 816.8V817.8 M521.5 817.1V818.6 M527.5 813.3V814.6 M534.5 815.2V816.9 M541.5 813.9V814.7 M548.5 812.8V814.5 M562.5 817.8V819.4 M577.5 814.4V815.3 M588.5 794.3V799.7 M590.5 792.6V795.5 M596.5 789.2V791.3 M597.5 788.5V790.3 M598.5 794.1V796.9 M599.5 794.3V796.0 M600.5 793.6V795.7 M601.5 793.4V796.4 M606.5 796.2V797.3 M607.5 794.4V796.8 M608.5 800.0V805.9 M609.5 804.5V805.5 M611.5 803.8V805.4 M614.5 805.1V806.5 M619.5 805.2V806.9 M625.5 804.7V805.9 M635.5 803.6V805.7 M639.5 802.6V803.4 M645.5 804.5V805.7 M647.5 804.5V805.9 M664.5 715.6V722.4 M665.5 722.1V728.9 M667.5 726.6V733.5 M668.5 730.8V742.0 M669.5 734.9V740.1 M671.5 737.2V742.1 M672.5 744.5V749.2 M675.5 730.2V748.7 M676.5 737.9V745.9 M679.5 788.1V795.2 M680.5 797.7V806.9 M681.5 792.0V803.7 M682.5 805.9V816.3 M689.5 791.7V798.1 M690.5 789.0V791.9 M692.5 794.7V797.3 M693.5 790.6V792.7 M695.5 797.6V800.2 M696.5 794.5V798.8 M704.5 773.0V775.9 M705.5 765.4V767.1 M709.5 750.3V753.2 M711.5 734.5V739.3 M714.5 735.0V739.9 M715.5 731.9V736.7 M716.5 748.8V756.1 M718.5 750.5V752.9 M719.5 757.0V762.9 M724.5 755.2V757.5 M725.5 754.5V755.9 M726.5 757.1V761.6 M735.5 741.5V746.2 M761.5 505.6V510.3 M762.5 514.7V526.1 M763.5 530.1V538.2 M772.5 642.8V655.3 M775.5 630.9V641.5 M778.5 652.1V660.2 M780.5 667.3V672.3 M785.5 672.9V676.0 M786.5 679.0V682.8 M787.5 703.2V709.3 M789.5 722.4V727.6 M794.5 708.3V712.7 M795.5 707.1V714.1 M796.5 712.5V714.2 M797.5 714.2V717.0 M799.5 718.2V724.6 M801.5 723.9V725.9 M802.5 724.2V727.6 M805.5 733.5V739.4 M810.5 712.5V721.6 M811.5 712.4V714.7 M814.5 699.2V703.5 M824.5 601.4V610.4 M825.5 603.7V608.7 M828.5 586.1V598.4 M830.5 613.9V621.1 M838.5 610.6V623.1 M840.5 603.7V612.5 M848.5 647.0V656.2 M860.5 608.1V611.3 M861.5 611.1V620.4 M862.5 614.5V625.1 M864.5 617.4V620.1 M865.5 612.3V616.9 M866.5 618.5V623.6 M867.5 616.1V626.2 M877.5 587.2V591.8 M878.5 592.8V595.4 M880.5 602.9V605.8 M881.5 619.2V628.1 M882.5 622.7V628.5 M883.5 623.3V627.3 M884.5 628.9V634.0 M885.5 626.5V633.1 M886.5 631.0V635.2 M887.5 636.6V640.9 M888.5 634.9V648.6 M890.5 637.1V644.7 M892.5 641.6V650.5 M894.5 673.8V688.2 M897.5 674.4V683.6 M898.5 680.6V684.0 M899.5 681.6V684.9 M905.5 647.4V656.4 M906.5 646.4V653.2 M907.5 661.5V663.0 M908.5 667.2V677.8 M910.5 675.1V680.1 M911.5 679.0V684.1 M912.5 689.7V697.9 M918.5 684.5V691.3 M919.5 685.8V687.6 M920.5 694.3V696.4 M921.5 693.2V698.1 M923.5 701.5V716.3 M924.5 724.0V734.1 M925.5 717.7V724.0 M926.5 720.0V724.4 M927.5 723.3V726.4 M928.5 728.1V730.2 M937.5 676.9V683.4 M938.5 676.7V683.3 M940.5 678.2V686.5 M942.5 698.8V706.2 M944.5 709.0V718.5 M949.5 698.4V701.5 M958.5 683.1V685.7 M964.5 671.6V673.7 M965.5 664.5V671.7 M966.5 676.0V684.1 M967.5 678.5V683.5 M968.5 681.4V687.8 M969.5 678.7V685.7 M971.5 682.0V688.2 M972.5 695.1V704.2 M973.5 692.8V696.2 M974.5 696.9V702.3 M980.5 704.5V710.6 M982.5 712.9V718.7 M983.5 713.8V716.2 M985.5 715.7V718.3 M986.5 715.6V717.9 M987.5 719.9V723.3 M990.5 735.3V738.8 M992.5 747.3V753.9 M994.5 764.6V769.1 M995.5 761.4V768.7 M1000.5 766.5V770.9 M1002.5 768.9V771.0 M1006.5 770.5V772.1 M1010.5 771.3V773.4 M1011.5 770.4V774.5 M1013.5 786.9V791.7 M1014.5 786.0V788.8 M1018.5 786.7V787.6 M1022.5 780.2V784.9 M1023.5 784.7V786.2 M1025.5 786.7V788.3 M1029.5 783.0V784.1 M1030.5 786.2V789.0 M1031.5 789.0V790.7 M1038.5 778.5V780.2 M1044.5 775.1V777.1 M1045.5 776.4V778.3 M1046.5 776.4V779.1 M1047.5 778.4V781.4 M1053.5 778.0V779.0 M1054.5 776.4V777.9 M1056.5 781.1V783.2 M1059.5 776.1V781.8 M1061.5 781.0V783.2 M1062.5 783.0V785.7 M1063.5 785.8V787.9 M1081.5 747.6V749.3 M1083.5 747.6V749.0 M1084.5 747.5V750.6 M1087.5 756.4V757.6 M1089.5 757.7V761.4 M1097.5 756.5V757.8 M1098.5 756.8V758.7 M1099.5 752.4V760.2 M1100.5 773.5V784.9 M1101.5 781.2V783.6 M1102.5 774.7V781.9 M1108.5 776.0V777.0 M1109.5 776.0V777.3 M1110.5 776.3V777.2 M1115.5 770.6V772.6 M1119.5 773.5V775.3 M1121.5 774.3V775.4 M1123.5 774.6V777.0 M1124.5 775.0V777.6 M1125.5 778.7V780.6 M1154.5 771.4V772.5 M1156.5 770.7V772.7 M1158.5 772.2V774.5 M1161.5 773.0V776.3 M1169.5 773.2V775.1 M1176.5 775.5V776.3 M1178.5 777.0V777.9 M1192.5 744.8V749.5 M1193.5 747.2V748.9 M1194.5 746.7V747.4 M1198.5 747.0V748.2 M1200.5 746.4V748.4 M1202.5 746.2V747.7 M1203.5 742.3V747.7 M1204.5 751.5V756.5 M1206.5 756.3V759.1 M1211.5 755.2V757.7 M1213.5 756.9V758.8 M1215.5 762.1V765.5 M1229.5 746.7V750.4 M1237.5 738.9V745.4 M1238.5 744.0V748.2 M1239.5 753.1V755.1 M1241.5 750.8V752.4 M1244.5 746.7V751.3 M1245.5 751.2V756.6 M1246.5 753.7V754.8 M1247.5 754.8V758.0 M1250.5 754.0V756.8 M1253.5 754.8V755.6 M1261.5 679.9V687.2 M1262.5 701.3V704.7 M1265.5 703.5V707.4 M1266.5 707.6V710.4 M1270.5 711.7V713.6 M1271.5 715.6V720.4 M1273.5 715.5V718.6 M1274.5 717.8V724.1 M1275.5 722.1V725.0 M1276.5 723.5V729.5 M1277.5 722.1V730.8 M1279.5 740.0V745.8 M1281.5 743.3V744.6 M1285.5 742.2V743.7 M1286.5 741.4V745.2 M1288.5 745.9V748.3 M1289.5 743.5V747.1 M1290.5 747.0V748.8 M1292.5 749.7V751.3 M1293.5 752.6V755.3 M1302.5 746.8V748.3 M1309.5 740.8V742.0 M1311.5 744.7V747.0 M1312.5 744.6V749.2 M1333.5 704.3V714.8 M1334.5 706.1V711.2 M1335.5 717.4V723.5 M1336.5 722.5V723.5 M1337.5 721.3V722.7 M1338.5 723.2V729.0 M1347.5 720.7V724.8 M1350.5 716.1V720.6 M1352.5 720.9V723.9 M1353.5 716.7V722.2 M1355.5 727.0V732.8 M1363.5 720.6V722.3 M1364.5 719.9V722.4 M1365.5 724.4V726.7 M1366.5 727.8V741.1 M1367.5 726.5V732.4 M1374.5 726.8V731.7 M1375.5 737.0V739.6 M1376.5 739.0V741.4 M1377.5 742.0V744.5 M1378.5 741.4V743.3 M1379.5 744.3V748.1 M1384.5 742.8V746.6 M1385.5 747.7V749.3 M1396.5 738.4V742.1 M1412.5 710.8V718.4 M1413.5 717.0V730.8 M1414.5 716.1V720.1 M1415.5 719.3V723.0 M1416.5 716.4V723.4 M1421.5 720.7V725.5 M1422.5 724.2V726.4 M1427.5 721.0V725.0 M1428.5 723.2V728.1 M1429.5 727.3V737.1 M1430.5 747.5V751.7 M1437.5 743.1V744.8 M1440.5 747.1V749.3 M1444.5 736.9V744.5 M1446.5 745.2V748.3 M1447.5 747.7V749.0 M1448.5 747.7V748.7 M1451.5 743.6V745.6 M1459.5 742.9V745.4 M1462.5 743.9V744.9 M1463.5 748.7V750.8 M1464.5 745.5V755.8 M1465.5 747.4V750.4 M1471.5 749.3V752.0 M1472.5 748.2V754.5 M1474.5 752.3V754.1 M1476.5 753.2V755.4 M1478.5 753.2V756.1 M1479.5 755.5V757.2 M1480.5 755.4V759.6 M1481.5 762.2V763.9 M1482.5 764.3V771.7 M1483.5 766.4V769.8 M1499.5 720.4V723.7 M1500.5 726.2V731.6 M1505.5 731.3V735.7 M1513.5 726.9V728.5 M1515.5 728.9V732.5 M1516.5 731.5V734.0 M1517.5 733.9V735.4 M1518.5 734.2V736.2 M1519.5 733.8V736.3 M1531.5 730.9V731.7 M1538.5 725.1V737.4 M1539.5 736.3V739.7 M1540.5 741.0V743.9 M1541.5 740.0V742.6 M1545.5 739.4V741.4 M1547.5 739.9V743.6 M1550.5 737.0V739.7 M1555.5 744.2V745.0 M1557.5 745.6V747.6 M1558.5 745.4V747.8 M1561.5 737.9V742.0 M1609.5 177.2V191.5 M1614.5 191.4V196.1 M1647.5 317.0V323.1 M1649.5 344.1V352.2 M1653.5 395.0V400.0 M1654.5 396.6V404.3 M1673.5 390.0V399.1 M1683.5 333.8V343.3 M1686.5 339.0V346.7 M1687.5 350.0V356.5 M1688.5 353.1V358.8 M1689.5 360.0V368.1 M1690.5 364.4V370.4 M1692.5 388.2V393.6 M1699.5 360.7V371.4 M1702.5 391.0V398.0 M1703.5 388.3V399.6 M6.5 415V455 M7.5 450V493 M10.5 500V549 M19.5 650V705 M677.5 745V790 M702.5 735V775 M767.5 520V625 M835.5 552V600 M893.5 644V661 M923.5 698V720 M990.5 731V743 M1100.5 767V780 M1278.5 730V764 M1429.5 724V744 M1501.5 745V756 M1538.5 722V740 M1577.5 258V370 M1586.5 312V346 M1593.5 390V410 M1617.5 293V348 M1629.5 270V345 M1633.5 224V336 M1650.5 347V389 M1680.5 298V345 M1693.5 376V408 M1700.5 352V389 M1606.5 145V158 M1615.5 176V195 M1722.5 91V97 M1572.5 548V553 M1569.5 610V622 M1579.5 288V370 M1591.5 351V365.6 M1599.5 329V365.6 M1601.5 336.4V355.8 M1627.5 268.5V278 M1630.5 343.7V375 M1635.5 305V334 M1637.5 290V317 M1646.5 312V326.7 M1648.5 324V346 M1653.5 389.8V404.4 M1656.5 433.5V450 M1658.5 404V421 M1661.5 397V406.8 M1666.5 365.6V377.7 M1670.5 365.6V380 M1672.5 375V389.8 M1682.5 331.6V346 M1684.5 334V348.6 M1686.5 346V360.7 M1689.5 358.3V370.4 M1692.5 368V389.8 M1693.5 389.8V406.8 M1696.5 351V365.6 M1699.5 355.8V385 M1701.5 365.6V387.4 M1703.5 387.4V397 M1706.5 375V387.4 M1708.5 360.7V385 M1709.5 363V377.7" stroke="#f00000"/>
</g>
<path d="M1719.5 1H1727.5L1723.5 5.5Z" fill="#28c828"/>
<g fill="#000" shape-rendering="crispEdges"><rect x="244" y="1" width="1" height="11"/><rect x="243" y="2" width="1" height="1"/><rect x="245" y="2" width="1" height="1"/><rect x="242" y="3" width="1" height="1"/><rect x="246" y="3" width="1" height="1"/><rect x="243" y="10" width="1" height="1"/><rect x="245" y="10" width="1" height="1"/><rect x="242" y="9" width="1" height="1"/><rect x="246" y="9" width="1" height="1"/></g>
<g shape-rendering="crispEdges" fill="none" stroke-width="1">
<path d="M5 860.5H1837M5 885.5H1837M5 911.5H1837" stroke="#000"/>
</g>
<path d="M5.3 893.8 L8.9 917.2 L15.2 895.0 L16.5 894.5 L20.9 916.0 L26.0 889.4 L28.5 875.0 L31.6 859.0 L33.2 878.6 L34.8 898.9 L37.3 915.3 L41.1 907.7 L44.9 917.2 L50.0 910.9 L54.4 924.2 L61.4 915.3 L62.7 898.9 L64.6 866.0 L68.4 846.4 L70.9 850.8 L73.4 866.0 L75.9 878.6 L79.1 887.5 L82.3 910.3 L87.3 917.2 L91.1 917.9 L94.3 910.3 L96.2 882.4 L99.4 858.4 L101.3 878.6 L103.8 916.0 L106.3 912.2 L111.4 922.9 L113.9 916.6 L116.5 882.4 L120.3 907.7 L123.4 881.8 L126.6 902.7 L130.4 909.0 L134.2 920.4 L138.0 924.2 L144.0 907.7 L147.9 865.0 L150.4 862.6 L153.4 880.0 L156.6 915.0 L160.4 912.7 L162.9 868.8 L166.7 877.6 L170.4 883.9 L174.2 887.6 L177.2 916.5 L180.5 897.7 L184.2 865.0 L187.5 872.6 L189.7 898.9 L192.5 861.3 L196.7 875.0 L200.5 900.0 L205.5 917.7 L209.3 915.2 L213.0 922.7 L216.8 915.2 L219.3 885.0 L222.3 857.6 L226.8 867.6 L229.3 892.7 L231.8 910.0 L235.6 917.0 L239.3 914.0 L244.4 885.0 L246.9 902.7 L250.6 882.6 L253.6 865.0 L256.9 873.9 L260.7 893.9 L265.7 890.0 L270.7 876.4 L275.2 902.7 L278.2 887.6 L282.0 863.8 L285.7 870.0 L288.2 892.7 L290.7 905.2 L293.2 901.4 L297.0 915.0 L300.8 887.6 L304.5 872.6 L307.0 858.8 L309.5 867.6 L313.3 883.9 L317.8 868.8 L320.8 890.0 L325.0 904.0 L328.3 880.0 L332.8 863.8 L335.8 885.0 L339.6 917.7 L344.6 911.5 L349.6 902.7 L355.4 881.4 L359.6 892.7 L363.9 910.2 L368.4 897.7 L372.2 886.4 L375.2 896.4 L383.5 888.9 L387.2 866.3 L392.2 903.9 L396.0 893.9 L399.7 868.8 L404.8 861.3 L409.8 875.0 L413.5 857.6 L417.3 862.6 L421.0 887.6 L424.0 917.7 L428.6 911.5 L433.6 893.9 L439.8 877.6 L443.1 906.4 L447.5 901.4 L452.5 887.6 L457.5 872.6 L462.6 865.0 L466.3 861.3 L470.0 878.9 L473.8 853.8 L477.6 852.6 L481.4 858.8 L484.6 885.0 L487.0 917.7 L491.4 914.0 L496.4 906.4 L501.4 904.0 L506.4 882.6 L511.4 861.3 L515.2 856.3 L519.0 873.9 L522.2 893.9 L525.2 882.6 L527.7 852.6 L530.7 866.3 L534.0 883.9 L537.7 897.7 L541.5 887.6 L546.5 892.7 L551.5 877.6 L555.3 896.4 L560.3 897.7 L564.8 906.4 L568.3 914.0 L570.3 895.0 L572.8 863.8 L577.3 870.0 L580.4 883.9 L584.0 862.6 L587.9 849.5 L592.0 855.0 L595.4 873.9 L599.9 880.0 L604.2 912.7 L608.4 893.9 L613.0 914.0 L618.4 890.0 L621.0 902.7 L625.5 878.9 L629.2 873.9 L633.0 860.0 L638.0 896.4 L641.3 873.9 L646.0 909.0 L650.5 880.0 L654.3 853.8 L658.5 847.0 L661.8 867.6 L665.6 877.6 L670.6 891.4 L673.0 904.0 L676.8 887.6 L680.6 910.2 L685.0 916.5 L688.0 900.0 L691.4 876.4 L695.6 887.6 L700.6 912.7 L705.7 897.7 L710.7 886.4 L715.0 861.3 L718.2 887.6 L721.4 918.2 L724.5 910.2 L728.2 872.6 L730.7 892.7 L734.5 873.9 L740.8 863.8 L747.0 851.3 L750.8 862.6 L753.8 902.7 L757.0 891.4 L760.3 855.0 L763.3 862.6 L767.0 901.4 L770.8 910.2 L774.0 921.5 L777.0 907.7 L780.0 892.7 L784.6 906.4 L788.4 918.2 L792.0 902.7 L797.0 880.0 L800.9 897.7 L806.4 914.0 L809.7 900.0 L812.9 865.0 L816.0 857.6 L821.0 856.3 L824.7 863.8 L828.5 866.3 L832.2 891.4 L835.5 858.8 L838.5 887.6 L842.3 904.0 L846.5 907.7 L851.0 897.7 L854.8 865.0 L857.3 853.8 L861.0 862.6 L864.8 877.6 L866.8 896.4 L871.0 887.6 L876.0 853.8 L879.8 872.6 L883.0 910.2 L887.4 917.7 L892.4 901.4 L898.6 904.0 L902.4 896.0 L905.6 859.0 L908.8 883.9 L912.0 915.2 L916.3 902.7 L920.6 885.0 L925.0 907.7 L931.3 902.7 L935.0 851.3 L938.8 862.6 L941.4 892.7 L944.6 911.5 L948.9 870.0 L953.0 881.4 L957.6 867.6 L962.7 857.6 L966.4 872.6 L970.2 902.7 L973.4 919.0 L976.4 911.5 L979.7 876.4 L982.7 902.7 L987.7 919.7 L993.2 912.7 L997.7 902.7 L1003.3 892.7 L1007.8 888.9 L1012.8 892.7 L1016.5 910.2 L1020.3 892.7 L1023.6 881.4 L1026.6 910.2 L1030.3 896.4 L1034.0 895.0 L1037.8 858.8 L1041.0 878.9 L1044.9 862.6 L1049.0 868.8 L1054.0 881.4 L1056.6 905.2 L1060.4 909.0 L1066.0 915.2 L1069.2 897.7 L1071.7 870.0 L1074.2 873.9 L1078.0 856.3 L1083.0 855.0 L1086.7 880.0 L1089.2 904.0 L1091.7 909.0 L1096.7 876.4 L1100.0 880.0 L1103.0 901.4 L1106.8 897.7 L1111.8 871.4 L1115.0 859.6 L1118.0 872.6 L1122.6 896.4 L1128.0 911.5 L1133.0 887.6 L1138.0 895.0 L1141.9 883.9 L1145.0 855.0 L1150.6 859.6 L1154.4 876.4 L1158.0 883.9 L1161.9 910.2 L1165.7 877.6 L1168.7 870.0 L1173.2 906.4 L1177.0 885.0 L1180.7 887.6 L1184.5 897.7 L1188.2 870.0 L1191.5 855.0 L1195.7 883.9 L1199.5 893.9 L1203.3 886.4 L1207.8 912.7 L1212.0 892.7 L1215.3 888.9 L1218.3 910.2 L1222.0 885.0 L1225.8 861.3 L1231.3 855.0 L1235.8 863.8 L1239.6 897.7 L1242.9 907.7 L1247.0 897.7 L1252.0 891.4 L1255.9 872.6 L1260.9 852.6 L1264.7 867.6 L1268.4 910.2 L1271.7 916.5 L1276.0 902.7 L1279.7 910.2 L1283.5 895.0 L1288.0 883.9 L1291.0 906.4 L1296.0 902.7 L1300.3 853.8 L1304.0 862.6 L1307.3 888.9 L1309.8 880.0 L1314.8 914.0 L1318.5 897.7 L1322.3 865.0 L1326.0 862.6 L1329.8 853.8 L1333.6 862.6 L1338.6 914.0 L1342.4 907.7 L1347.4 872.6 L1351.0 865.0 L1354.9 883.9 L1358.0 895.0 L1362.4 864.5 L1365.0 868.0 L1367.3 885.0 L1373.0 882.2 L1376.0 896.7 L1379.7 915.0 L1383.2 904.0 L1389.0 895.3 L1392.5 864.8 L1394.8 852.6 L1397.0 859.0 L1400.0 882.2 L1404.0 854.7 L1407.0 869.0 L1410.8 864.0 L1413.7 880.8 L1417.0 902.5 L1421.0 885.0 L1425.3 905.5 L1429.0 879.3 L1434.0 915.0 L1438.4 882.2 L1442.0 888.0 L1446.2 879.3 L1450.5 901.0 L1455.8 873.5 L1461.6 895.3 L1466.0 886.6 L1469.7 895.3 L1473.8 883.7 L1479.0 909.8 L1484.8 893.8 L1489.7 851.8 L1495.0 859.0 L1499.3 867.7 L1502.2 898.2 L1506.5 867.7 L1510.0 876.4 L1513.8 869.2 L1516.7 873.5 L1519.0 905.5 L1524.0 904.0 L1528.3 862.0 L1532.7 851.8 L1537.0 864.8 L1540.5 915.0 L1545.7 911.3 L1549.2 875.0 L1553.8 899.6 L1557.3 902.5 L1560.8 896.7 L1564.6 856.0 L1569.0 850.9 L1576.2 850.9 L1580.5 870.6 L1586.3 877.9 L1590.7 889.5 L1595.0 901.0 L1599.4 854.7 L1602.3 859.0 L1606.7 850.3 L1611.0 864.8 L1615.4 876.4 L1621.2 891.0 L1626.4 869.2 L1629.9 876.4 L1632.2 908.4 L1637.0 885.0 L1641.5 899.6 L1647.3 864.8 L1650.2 880.8 L1653.7 914.2 L1658.9 885.0 L1663.2 856.7 L1667.6 859.0 L1672.8 879.3 L1675.7 901.0 L1679.2 857.6 L1682.7 866.3 L1685.9 902.5 L1690.2 916.5 L1694.3 905.5 L1698.0 867.7 L1701.8 879.3 L1704.5 901.0 L1708.2 879.3 L1711.7 864.8 L1715.5 857.6 L1719.8 853.2 L1722.2 851.2" stroke="#000" stroke-width="1" fill="none" shape-rendering="crispEdges"/>
<path d="M5.0 873.5 L5.6 880.0 L6.4 894.4 L6.9 895.8 L7.4 897.2 L7.9 898.7 L8.4 901.6 L8.9 904.9 L9.4 908.1 L9.9 911.1 L10.4 913.2 L10.9 914.2 L11.4 914.3 L11.9 913.3 L12.4 911.6 L12.9 909.8 L13.4 908.0 L13.9 906.3 L14.4 904.5 L14.9 902.8 L15.4 901.0 L15.9 899.2 L16.4 897.7 L16.9 896.4 L17.4 895.4 L17.9 895.3 L18.4 896.1 L18.9 897.5 L19.4 899.4 L19.9 901.8 L20.4 904.3 L20.9 906.7 L21.4 909.2 L21.9 911.4 L22.4 912.6 L22.9 912.9 L23.4 912.1 L23.9 910.3 L24.4 907.7 L24.9 905.0 L25.4 902.4 L25.9 899.8 L26.4 897.2 L26.9 894.6 L27.4 892.0 L27.9 889.2 L28.4 886.5 L28.9 883.6 L29.4 880.8 L29.9 877.9 L30.4 875.2 L30.9 872.5 L31.4 869.8 L31.9 867.3 L32.4 864.7 L32.9 863.5 L33.4 864.0 L33.9 866.3 L34.4 870.4 L34.9 876.2 L35.4 882.5 L35.9 888.5 L36.4 894.0 L36.9 898.9 L37.4 903.1 L37.9 906.8 L38.4 909.7 L38.9 911.8 L39.4 913.0 L39.9 913.4 L40.4 912.9 L40.9 911.9 L41.4 910.9 L41.9 909.9 L42.4 909.3 L42.9 909.1 L43.4 909.3 L43.9 910.0 L44.4 911.2 L44.9 912.5 L45.4 913.7 L45.9 914.9 L46.4 915.7 L46.9 916.1 L47.4 916.2 L47.9 915.8 L48.4 915.2 L48.9 914.6 L49.4 914.0 L49.9 913.4 L50.4 912.8 L50.9 912.1 L51.4 911.9 L51.9 912.2 L52.4 912.8 L52.9 913.9 L53.4 915.4 L53.9 916.9 L54.4 918.5 L54.9 920.0 L55.4 921.4 L55.9 922.4 L56.4 923.0 L56.9 923.1 L57.4 922.8 L57.9 922.2 L58.4 921.5 L58.9 920.9 L59.4 920.3 L59.9 919.6 L60.4 919.0 L60.9 918.4 L61.4 917.7 L61.9 917.1 L62.4 916.2 L62.9 914.2 L63.4 911.1 L63.9 906.5 L64.4 900.4 L64.9 892.9 L65.4 884.9 L65.9 877.4 L66.4 870.9 L66.9 865.6 L67.4 861.6 L67.9 858.8 L68.4 856.2 L68.9 853.6 L69.4 851.2 L69.9 849.4 L70.4 848.4 L70.9 848.0 L71.4 848.3 L71.9 849.3 L72.4 850.7 L72.9 852.5 L73.4 854.8 L73.9 857.5 L74.4 860.5 L74.9 863.4 L75.4 866.2 L75.9 868.9 L76.4 871.5 L76.9 874.0 L77.4 876.3 L77.9 878.3 L78.4 880.1 L78.9 881.7 L79.4 883.0 L79.9 884.4 L80.4 886.2 L80.9 888.4 L81.4 891.0 L81.9 894.0 L82.4 897.5 L82.9 901.0 L83.4 904.4 L83.9 907.1 L84.4 909.3 L84.9 910.9 L85.4 912.0 L85.9 912.6 L86.4 913.3 L86.9 914.0 L87.4 914.7 L87.9 915.4 L88.4 916.0 L88.9 916.6 L89.4 917.0 L89.9 917.3 L90.4 917.4 L90.9 917.5 L91.4 917.6 L91.9 917.7 L92.4 917.6 L92.9 917.2 L93.4 916.6 L93.9 915.7 L94.4 914.6 L94.9 913.4 L95.4 911.7 L95.9 908.8 L96.4 904.7 L96.9 899.3 L97.4 893.1 L97.9 886.9 L98.4 881.4 L98.9 876.7 L99.4 872.6 L99.9 868.9 L100.4 865.5 L100.9 863.9 L101.4 864.2 L101.9 866.2 L102.4 870.3 L102.9 876.2 L103.4 882.5 L103.9 889.3 L104.4 896.6 L104.9 903.4 L105.4 908.5 L105.9 912.1 L106.4 913.9 L106.9 914.2 L107.4 913.6 L107.9 913.3 L108.4 913.4 L108.9 913.9 L109.4 914.7 L109.9 915.8 L110.4 916.8 L110.9 917.9 L111.4 918.9 L111.9 920.0 L112.4 920.9 L112.9 921.4 L113.4 921.4 L113.9 921.0 L114.4 920.1 L114.9 918.7 L115.4 916.1 L115.9 912.5 L116.4 907.9 L116.9 902.1 L117.4 895.6 L117.9 891.0 L118.4 888.3 L118.9 887.7 L119.4 889.1 L119.9 892.4 L120.4 895.7 L120.9 899.0 L121.4 901.8 L121.9 903.0 L122.4 902.7 L122.9 901.0 L123.4 897.7 L123.9 893.5 L124.4 889.6 L124.9 887.2 L125.4 886.3 L125.9 886.9 L126.4 889.0 L126.9 892.2 L127.4 895.5 L127.9 898.4 L128.4 900.8 L128.9 902.7 L129.4 904.1 L129.9 905.0 L130.4 905.9 L130.9 906.7 L131.4 907.5 L131.9 908.5 L132.4 909.6 L132.9 910.9 L133.4 912.3 L133.9 913.8 L134.4 915.3 L134.9 916.8 L135.4 918.2 L135.9 919.4 L136.4 920.3 L136.9 921.1 L137.4 921.7 L137.9 922.2 L138.4 922.7 L138.9 923.2 L139.4 923.3 L139.9 923.1 L140.4 922.5 L140.9 921.5 L141.4 920.1 L141.9 918.7 L142.4 917.3 L142.9 916.0 L143.4 914.6 L143.9 913.2 L144.4 911.8 L144.9 910.5 L145.4 908.3 L145.9 905.2 L146.4 901.4 L146.9 896.8 L147.4 891.3 L147.9 885.8 L148.4 880.3 L148.9 875.1 L149.4 870.8 L149.9 867.5 L150.4 865.2 L150.9 863.9 L151.4 863.6 L151.9 863.9 L152.4 864.9 L152.9 866.6 L153.4 869.0 L153.9 871.9 L154.4 874.9 L154.9 878.4 L155.4 882.4 L155.9 887.0 L156.4 892.0 L156.9 897.5 L157.4 903.0 L157.9 907.5 L158.4 910.9 L158.9 913.1 L159.4 914.2 L159.9 914.2 L160.4 913.9 L160.9 913.5 L161.4 912.9 L161.9 910.6 L162.4 906.5 L162.9 900.8 L163.4 893.4 L163.9 885.0 L164.4 878.6 L164.9 874.2 L165.4 871.8 L165.9 871.3 L166.4 872.5 L166.9 873.7 L167.4 874.8 L167.9 875.9 L168.4 877.0 L168.9 878.0 L169.4 878.9 L169.9 879.8 L170.4 880.7 L170.9 881.5 L171.4 882.4 L171.9 883.1 L172.4 883.8 L172.9 884.4 L173.4 885.0 L173.9 885.5 L174.4 885.9 L174.9 886.4 L175.4 887.4 L175.9 889.3 L176.4 892.0 L176.9 895.7 L177.4 900.1 L177.9 904.9 L178.4 908.8 L178.9 911.2 L179.4 912.0 L179.9 911.3 L180.4 909.1 L180.9 906.2 L181.4 903.4 L181.9 900.2 L182.4 896.8 L182.9 893.0 L183.4 888.9 L183.9 884.4 L184.4 880.0 L184.9 875.6 L185.4 871.9 L185.9 869.2 L186.4 867.7 L186.9 867.3 L187.4 868.0 L187.9 869.1 L188.4 870.3 L188.9 872.4 L189.4 875.5 L189.9 879.5 L190.4 884.6 L190.9 889.0 L191.4 890.9 L191.9 890.3 L192.4 887.1 L192.9 881.4 L193.4 874.7 L193.9 869.7 L194.4 866.3 L194.9 864.6 L195.4 864.6 L195.9 866.2 L196.4 867.8 L196.9 869.5 L197.4 871.1 L197.9 872.9 L198.4 875.1 L198.9 877.6 L199.4 880.4 L199.9 883.6 L200.4 886.8 L200.9 890.1 L201.4 893.4 L201.9 896.4 L202.4 899.1 L202.9 901.5 L203.4 903.5 L203.9 905.3 L204.4 907.1 L204.9 908.9 L205.4 910.6 L205.9 912.4 L206.4 914.2 L206.9 915.5 L207.4 916.4 L207.9 917.0 L208.4 917.0 L208.9 916.7 L209.4 916.4 L209.9 916.1 L210.4 915.8 L210.9 915.9 L211.4 916.2 L211.9 916.8 L212.4 917.6 L212.9 918.6 L213.4 919.7 L213.9 920.7 L214.4 921.3 L214.9 921.5 L215.4 921.3 L215.9 920.7 L216.4 919.7 L216.9 918.8 L217.4 917.8 L217.9 916.4 L218.4 914.0 L218.9 910.6 L219.4 906.1 L219.9 900.7 L220.4 894.8 L220.9 889.2 L221.4 883.8 L221.9 878.8 L222.4 874.0 L222.9 869.5 L223.4 865.4 L223.9 862.4 L224.4 860.5 L224.9 859.8 L225.4 860.3 L225.9 861.4 L226.4 862.5 L226.9 863.6 L227.4 864.7 L227.9 866.1 L228.4 868.3 L228.9 871.3 L229.4 875.1 L229.9 879.6 L230.4 884.5 L230.9 889.1 L231.4 893.4 L231.9 897.4 L232.4 901.0 L232.9 904.3 L233.4 907.0 L233.9 909.3 L234.4 911.0 L234.9 912.2 L235.4 913.1 L235.9 914.1 L236.4 915.0 L236.9 915.7 L237.4 916.1 L237.9 916.3 L238.4 916.2 L238.9 915.9 L239.4 915.5 L239.9 915.1 L240.4 914.5 L240.9 913.4 L241.4 911.8 L241.9 909.7 L242.4 907.2 L242.9 904.3 L243.4 901.5 L243.9 898.6 L244.4 895.8 L244.9 893.0 L245.4 890.4 L245.9 889.1 L246.4 889.0 L246.9 890.3 L247.4 892.8 L247.9 896.1 L248.4 898.1 L248.9 898.9 L249.4 898.4 L249.9 896.7 L250.4 894.0 L250.9 891.3 L251.4 888.6 L251.9 885.8 L252.4 883.0 L252.9 880.2 L253.4 877.3 L253.9 874.4 L254.4 871.5 L254.9 869.2 L255.4 867.8 L255.9 867.3 L256.4 867.6 L256.9 868.8 L257.4 870.1 L257.9 871.5 L258.4 873.2 L258.9 875.1 L259.4 877.3 L259.9 879.7 L260.4 882.3 L260.9 885.0 L261.4 887.6 L261.9 889.9 L262.4 891.5 L262.9 892.6 L263.4 893.0 L263.9 892.9 L264.4 892.5 L264.9 892.1 L265.4 891.7 L265.9 891.3 L266.4 890.9 L266.9 890.4 L267.4 889.7 L267.9 888.8 L268.4 887.7 L268.9 886.5 L269.4 885.1 L269.9 883.7 L270.4 882.4 L270.9 881.0 L271.4 879.7 L271.9 878.8 L272.4 878.8 L272.9 879.7 L273.4 881.4 L273.9 884.0 L274.4 886.9 L274.9 889.8 L275.4 892.8 L275.9 895.7 L276.4 898.0 L276.9 899.1 L277.4 899.2 L277.9 898.2 L278.4 896.2 L278.9 893.6 L279.4 891.0 L279.9 888.3 L280.4 885.5 L280.9 882.5 L281.4 879.5 L281.9 876.3 L282.4 873.2 L282.9 870.1 L283.4 867.7 L283.9 866.2 L284.4 865.4 L284.9 865.5 L285.4 866.3 L285.9 867.2 L286.4 868.0 L286.9 869.3 L287.4 871.3 L287.9 874.1 L288.4 877.6 L288.9 881.8 L289.4 886.1 L289.9 890.0 L290.4 893.5 L290.9 896.5 L291.4 899.2 L291.9 901.3 L292.4 902.8 L292.9 903.6 L293.4 903.7 L293.9 903.2 L294.4 902.8 L294.9 902.8 L295.4 903.4 L295.9 904.5 L296.4 906.1 L296.9 907.8 L297.4 909.6 L297.9 911.4 L298.4 912.1 L298.9 911.8 L299.4 910.3 L299.9 907.8 L300.4 904.2 L300.9 900.6 L301.4 897.0 L301.9 893.5 L302.4 890.3 L302.9 887.5 L303.4 885.0 L303.9 882.7 L304.4 880.7 L304.9 878.7 L305.4 876.7 L305.9 874.5 L306.4 872.2 L306.9 869.7 L307.4 867.1 L307.9 864.3 L308.4 862.5 L308.9 861.5 L309.4 861.5 L309.9 862.3 L310.4 864.1 L310.9 865.9 L311.4 867.8 L311.9 869.8 L312.4 871.9 L312.9 874.0 L313.4 876.2 L313.9 878.3 L314.4 880.2 L314.9 881.2 L315.4 881.5 L315.9 881.1 L316.4 879.9 L316.9 878.2 L317.4 876.5 L317.9 874.8 L318.4 873.2 L318.9 871.9 L319.4 871.7 L319.9 872.5 L320.4 874.4 L320.9 877.3 L321.4 880.8 L321.9 884.2 L322.4 887.2 L322.9 889.8 L323.4 892.1 L323.9 894.0 L324.4 895.7 L324.9 897.3 L325.4 899.0 L325.9 900.7 L326.4 901.3 L326.9 900.8 L327.4 899.3 L327.9 896.7 L328.4 893.1 L328.9 889.5 L329.4 886.0 L329.9 882.8 L330.4 880.1 L330.9 877.7 L331.4 875.7 L331.9 873.9 L332.4 872.1 L332.9 870.3 L333.4 868.5 L333.9 867.1 L334.4 866.8 L334.9 867.6 L335.4 869.4 L335.9 872.3 L336.4 875.8 L336.9 879.4 L337.4 883.2 L337.9 887.1 L338.4 891.1 L338.9 895.3 L339.4 899.6 L339.9 903.9 L340.4 908.2 L340.9 911.7 L341.4 914.3 L341.9 915.8 L342.4 916.4 L342.9 916.0 L343.4 915.3 L343.9 914.7 L344.4 914.1 L344.9 913.5 L345.4 912.9 L345.9 912.2 L346.4 911.5 L346.9 910.7 L347.4 909.9 L347.9 909.0 L348.4 908.2 L348.9 907.3 L349.4 906.4 L349.9 905.5 L350.4 904.6 L350.9 903.6 L351.4 902.4 L351.9 901.0 L352.4 899.4 L352.9 897.6 L353.4 895.7 L353.9 893.9 L354.4 892.0 L354.9 890.2 L355.4 888.4 L355.9 886.5 L356.4 884.8 L356.9 883.8 L357.4 883.3 L357.9 883.5 L358.4 884.4 L358.9 885.7 L359.4 887.0 L359.9 888.4 L360.4 889.7 L360.9 891.2 L361.4 892.8 L361.9 894.5 L362.4 896.4 L362.9 898.4 L363.4 900.4 L363.9 902.5 L364.4 904.5 L364.9 906.4 L365.4 907.6 L365.9 908.1 L366.4 908.0 L366.9 907.1 L367.4 905.8 L367.9 904.4 L368.4 903.0 L368.9 901.6 L369.4 900.2 L369.9 898.8 L370.4 897.4 L370.9 895.9 L371.4 894.4 L371.9 892.9 L372.4 891.5 L372.9 890.0 L373.4 888.9 L373.9 888.4 L374.4 888.5 L374.9 889.3 L375.4 890.7 L375.9 892.4 L376.4 893.8 L376.9 894.8 L377.4 895.4 L377.9 895.5 L378.4 895.2 L378.9 894.8 L379.4 894.3 L379.9 893.9 L380.4 893.4 L380.9 893.0 L381.4 892.5 L381.9 892.1 L382.4 891.6 L382.9 891.2 L383.4 890.7 L383.9 890.3 L384.4 889.8 L384.9 888.8 L385.4 887.3 L385.9 885.3 L386.4 882.8 L386.9 879.7 L387.4 876.7 L387.9 873.6 L388.4 871.4 L388.9 870.5 L389.4 871.0 L389.9 872.9 L390.4 876.1 L390.9 879.8 L391.4 883.6 L391.9 887.4 L392.4 891.1 L392.9 894.9 L393.4 898.0 L393.9 900.2 L394.4 901.3 L394.9 901.4 L395.4 900.5 L395.9 899.2 L396.4 897.8 L396.9 896.5 L397.4 894.8 L397.9 892.7 L398.4 890.1 L398.9 887.1 L399.4 883.7 L399.9 880.3 L400.4 876.9 L400.9 873.9 L401.4 871.3 L401.9 869.3 L402.4 867.8 L402.9 866.9 L403.4 866.2 L403.9 865.4 L404.4 864.7 L404.9 863.9 L405.4 863.2 L405.9 862.6 L406.4 862.5 L406.9 862.8 L407.4 863.5 L407.9 864.6 L408.4 866.0 L408.9 867.3 L409.4 868.7 L409.9 870.1 L410.4 871.4 L410.9 872.5 L411.4 872.8 L411.9 872.4 L412.4 871.3 L412.9 869.4 L413.4 867.0 L413.9 864.7 L414.4 862.3 L414.9 860.6 L415.4 859.4 L415.9 858.9 L416.4 858.9 L416.9 859.6 L417.4 860.2 L417.9 860.9 L418.4 861.8 L418.9 863.2 L419.4 865.1 L419.9 867.7 L420.4 870.7 L420.9 874.1 L421.4 877.5 L421.9 880.8 L422.4 884.5 L422.9 888.6 L423.4 892.9 L423.9 897.6 L424.4 902.6 L424.9 907.7 L425.4 911.5 L425.9 914.3 L426.4 915.9 L426.9 916.4 L427.4 915.7 L427.9 915.0 L428.4 914.3 L428.9 913.7 L429.4 913.0 L429.9 912.1 L430.4 911.1 L430.9 909.8 L431.4 908.3 L431.9 906.6 L432.4 904.8 L432.9 903.1 L433.4 901.3 L433.9 899.5 L434.4 897.8 L434.9 896.1 L435.4 894.5 L435.9 893.0 L436.4 891.6 L436.9 890.2 L437.4 888.9 L437.9 887.6 L438.4 886.3 L438.9 885.0 L439.4 883.6 L439.9 882.3 L440.4 881.0 L440.9 880.2 L441.4 880.4 L441.9 881.8 L442.4 884.4 L442.9 888.1 L443.4 892.4 L443.9 896.8 L444.4 900.4 L444.9 903.0 L445.4 904.6 L445.9 905.2 L446.4 904.8 L446.9 904.2 L447.4 903.7 L447.9 903.1 L448.4 902.5 L448.9 901.8 L449.4 900.9 L449.9 899.9 L450.4 898.6 L450.9 897.3 L451.4 895.9 L451.9 894.5 L452.4 893.1 L452.9 891.7 L453.4 890.4 L453.9 889.0 L454.4 887.5 L454.9 886.1 L455.4 884.6 L455.9 883.1 L456.4 881.6 L456.9 880.1 L457.4 878.6 L457.9 877.1 L458.4 875.6 L458.9 874.3 L459.4 873.1 L459.9 872.0 L460.4 871.1 L460.9 870.4 L461.4 869.6 L461.9 868.9 L462.4 868.1 L462.9 867.4 L463.4 866.6 L463.9 865.9 L464.4 865.3 L464.9 864.7 L465.4 864.1 L465.9 863.6 L466.4 863.1 L466.9 862.6 L467.4 862.3 L467.9 862.6 L468.4 863.5 L468.9 865.0 L469.4 867.0 L469.9 869.4 L470.4 871.8 L470.9 874.1 L471.4 875.4 L471.9 875.5 L472.4 874.5 L472.9 872.3 L473.4 869.0 L473.9 865.7 L474.4 862.4 L474.9 859.3 L475.4 856.9 L475.9 855.1 L476.4 854.0 L476.9 853.4 L477.4 853.3 L477.9 853.1 L478.4 852.9 L478.9 852.9 L479.4 853.1 L479.9 853.5 L480.4 854.1 L480.9 854.9 L481.4 855.7 L481.9 856.5 L482.4 857.5 L482.9 859.1 L483.4 861.3 L483.9 864.2 L484.4 867.8 L484.9 871.9 L485.4 876.0 L485.9 880.5 L486.4 885.6 L486.9 891.2 L487.4 897.4 L487.9 904.1 L488.4 909.4 L488.9 913.4 L489.4 915.8 L489.9 916.9 L490.4 916.4 L490.9 916.0 L491.4 915.6 L491.9 915.2 L492.4 914.7 L492.9 914.2 L493.4 913.7 L493.9 913.0 L494.4 912.3 L494.9 911.6 L495.4 910.8 L495.9 910.0 L496.4 909.3 L496.9 908.5 L497.4 907.8 L497.9 907.2 L498.4 906.6 L498.9 906.2 L499.4 905.9 L499.9 905.6 L500.4 905.4 L500.9 905.2 L501.4 904.9 L501.9 904.7 L502.4 904.4 L502.9 903.7 L503.4 902.6 L503.9 901.1 L504.4 899.3 L504.9 897.2 L505.4 895.0 L505.9 892.9 L506.4 890.7 L506.9 888.6 L507.4 886.5 L507.9 884.3 L508.4 882.2 L508.9 880.0 L509.4 877.9 L509.9 875.8 L510.4 873.7 L510.9 871.5 L511.4 869.4 L511.9 867.3 L512.4 865.2 L512.9 863.4 L513.4 861.9 L513.9 860.7 L514.4 859.9 L514.9 859.2 L515.4 858.5 L515.9 857.9 L516.4 857.6 L516.9 857.9 L517.4 858.8 L517.9 860.2 L518.4 862.3 L518.9 864.6 L519.4 867.0 L519.9 869.3 L520.4 871.7 L520.9 874.4 L521.4 877.2 L521.9 880.1 L522.4 883.3 L522.9 886.4 L523.4 888.9 L523.9 890.4 L524.4 891.0 L524.9 890.5 L525.4 889.0 L525.9 887.1 L526.4 884.7 L526.9 881.5 L527.4 877.5 L527.9 872.7 L528.4 867.0 L528.9 862.0 L529.4 858.6 L529.9 857.0 L530.4 856.9 L530.9 858.5 L531.4 860.8 L531.9 863.1 L532.4 865.6 L532.9 868.0 L533.4 870.6 L533.9 873.2 L534.4 875.9 L534.9 878.6 L535.4 881.1 L535.9 883.4 L536.4 885.6 L536.9 887.6 L537.4 889.5 L537.9 891.4 L538.4 893.2 L538.9 894.7 L539.4 895.5 L539.9 895.8 L540.4 895.3 L540.9 894.2 L541.4 892.9 L541.9 891.6 L542.4 890.3 L542.9 889.3 L543.4 888.7 L543.9 888.5 L544.4 888.6 L544.9 889.1 L545.4 889.6 L545.9 890.1 L546.4 890.7 L546.9 891.2 L547.4 891.7 L547.9 891.8 L548.4 891.5 L548.9 890.8 L549.4 889.7 L549.9 888.2 L550.4 886.7 L550.9 885.1 L551.4 883.6 L551.9 882.1 L552.4 880.6 L552.9 879.9 L553.4 880.0 L553.9 880.9 L554.4 882.5 L554.9 885.0 L555.4 887.5 L555.9 890.0 L556.4 892.3 L556.9 894.1 L557.4 895.4 L557.9 896.3 L558.4 896.7 L558.9 896.8 L559.4 897.0 L559.9 897.1 L560.4 897.2 L560.9 897.4 L561.4 897.6 L561.9 897.9 L562.4 898.5 L562.9 899.2 L563.4 900.0 L563.9 901.0 L564.4 902.0 L564.9 902.9 L565.4 903.9 L565.9 904.9 L566.4 905.9 L566.9 906.9 L567.4 907.9 L567.9 909.0 L568.4 910.1 L568.9 911.2 L569.4 911.8 L569.9 911.2 L570.4 909.5 L570.9 906.6 L571.4 902.5 L571.9 897.3 L572.4 891.8 L572.9 886.1 L573.4 880.0 L573.9 874.3 L574.4 870.0 L574.9 867.1 L575.4 865.6 L575.9 865.5 L576.4 866.1 L576.9 866.8 L577.4 867.5 L577.9 868.2 L578.4 869.0 L578.9 870.1 L579.4 871.6 L579.9 873.3 L580.4 875.4 L580.9 877.6 L581.4 879.7 L581.9 880.7 L582.4 880.6 L582.9 879.5 L583.4 877.4 L583.9 874.4 L584.4 871.5 L584.9 868.5 L585.4 865.8 L585.9 863.4 L586.4 861.2 L586.9 859.2 L587.4 857.6 L587.9 855.9 L588.4 854.2 L588.9 852.6 L589.4 851.5 L589.9 850.9 L590.4 850.7 L590.9 851.0 L591.4 851.6 L591.9 852.3 L592.4 853.0 L592.9 853.7 L593.4 854.8 L593.9 856.3 L594.4 858.2 L594.9 860.6 L595.4 863.3 L595.9 866.1 L596.4 868.8 L596.9 871.1 L597.4 872.9 L597.9 874.4 L598.4 875.4 L598.9 876.1 L599.4 876.7 L599.9 877.4 L600.4 878.1 L600.9 878.9 L601.4 880.3 L601.9 882.4 L602.4 885.1 L602.9 888.4 L603.4 892.2 L603.9 896.0 L604.4 899.8 L604.9 903.6 L605.4 906.7 L605.9 908.5 L606.4 909.2 L606.9 908.6 L607.4 906.9 L607.9 904.6 L608.4 902.4 L608.9 900.2 L609.4 898.1 L609.9 896.9 L610.4 896.6 L610.9 897.2 L611.4 898.7 L611.9 900.9 L612.4 903.1 L612.9 905.3 L613.4 907.4 L613.9 909.6 L614.4 910.9 L614.9 911.4 L615.4 910.9 L615.9 909.6 L616.4 907.3 L616.9 905.1 L617.4 902.9 L617.9 900.7 L618.4 898.4 L618.9 896.2 L619.4 894.2 L619.9 893.1 L620.4 892.9 L620.9 893.7 L621.4 895.4 L621.9 897.8 L622.4 899.2 L622.9 899.6 L623.4 899.0 L623.9 897.4 L624.4 894.8 L624.9 892.1 L625.4 889.5 L625.9 886.8 L626.4 884.2 L626.9 881.9 L627.4 880.1 L627.9 878.6 L628.4 877.5 L628.9 876.9 L629.4 876.2 L629.9 875.5 L630.4 874.7 L630.9 873.7 L631.4 872.4 L631.9 870.9 L632.4 869.1 L632.9 867.3 L633.4 865.5 L633.9 863.7 L634.4 862.9 L634.9 863.3 L635.4 864.7 L635.9 867.3 L636.4 870.9 L636.9 874.6 L637.4 878.2 L637.9 881.8 L638.4 885.5 L638.9 889.1 L639.4 891.4 L639.9 892.2 L640.4 891.6 L640.9 889.6 L641.4 886.2 L641.9 882.8 L642.4 879.9 L642.9 878.5 L643.4 878.5 L643.9 880.0 L644.4 882.9 L644.9 886.6 L645.4 890.3 L645.9 894.1 L646.4 897.8 L646.9 901.5 L647.4 903.9 L647.9 904.8 L648.4 904.4 L648.9 902.6 L649.4 899.3 L649.9 896.1 L650.4 892.9 L650.9 889.7 L651.4 886.4 L651.9 883.2 L652.4 879.9 L652.9 876.5 L653.4 873.1 L653.9 869.7 L654.4 866.2 L654.9 862.8 L655.4 859.5 L655.9 856.8 L656.4 854.6 L656.9 853.0 L657.4 851.9 L657.9 851.0 L658.4 850.2 L658.9 849.4 L659.4 848.6 L659.9 848.6 L660.4 849.4 L660.9 850.9 L661.4 853.2 L661.9 856.4 L662.4 859.5 L662.9 862.5 L663.4 865.1 L663.9 867.3 L664.4 869.2 L664.9 870.8 L665.4 872.1 L665.9 873.4 L666.4 874.7 L666.9 876.0 L667.4 877.4 L667.9 878.7 L668.4 880.1 L668.9 881.5 L669.4 882.8 L669.9 884.2 L670.4 885.6 L670.9 887.0 L671.4 888.4 L671.9 889.9 L672.4 891.8 L672.9 893.8 L673.4 896.2 L673.9 898.8 L674.4 900.4 L674.9 901.1 L675.4 900.9 L675.9 899.7 L676.4 897.5 L676.9 895.4 L677.4 893.2 L677.9 891.5 L678.4 890.7 L678.9 891.0 L679.4 892.4 L679.9 894.7 L680.4 897.7 L680.9 900.7 L681.4 903.7 L681.9 906.3 L682.4 908.4 L682.9 910.1 L683.4 911.4 L683.9 912.2 L684.4 912.9 L684.9 913.6 L685.4 914.4 L685.9 915.1 L686.4 915.1 L686.9 914.4 L687.4 913.1 L687.9 911.0 L688.4 908.2 L688.9 905.5 L689.4 902.6 L689.9 899.6 L690.4 896.4 L690.9 893.1 L691.4 889.6 L691.9 886.1 L692.4 882.8 L692.9 880.5 L693.4 879.2 L693.9 878.8 L694.4 879.3 L694.9 880.7 L695.4 882.0 L695.9 883.3 L696.4 884.7 L696.9 886.2 L697.4 887.9 L697.9 889.9 L698.4 892.2 L698.9 894.6 L699.4 897.1 L699.9 899.6 L700.4 902.2 L700.9 904.7 L701.4 907.2 L701.9 909.1 L702.4 910.1 L702.9 910.4 L703.4 909.9 L703.9 908.6 L704.4 907.1 L704.9 905.6 L705.4 904.2 L705.9 902.7 L706.4 901.2 L706.9 899.8 L707.4 898.4 L707.9 897.1 L708.4 895.9 L708.9 894.8 L709.4 893.6 L709.9 892.5 L710.4 891.4 L710.9 890.2 L711.4 889.1 L711.9 887.8 L712.4 886.1 L712.9 884.0 L713.4 881.6 L713.9 878.8 L714.4 875.9 L714.9 873.0 L715.4 870.1 L715.9 867.1 L716.4 865.6 L716.9 865.5 L717.4 866.8 L717.9 869.5 L718.4 873.6 L718.9 877.7 L719.4 881.9 L719.9 886.3 L720.4 890.7 L720.9 895.3 L721.4 900.0 L721.9 904.8 L722.4 909.4 L722.9 912.7 L723.4 914.8 L723.9 915.7 L724.4 915.4 L724.9 914.1 L725.4 912.8 L725.9 910.7 L726.4 907.9 L726.9 904.4 L727.4 900.0 L727.9 895.0 L728.4 889.9 L728.9 884.8 L729.4 880.8 L729.9 878.6 L730.4 878.3 L730.9 879.8 L731.4 883.1 L731.9 886.3 L732.4 888.2 L732.9 888.9 L733.4 888.2 L733.9 886.3 L734.4 883.8 L734.9 881.3 L735.4 878.8 L735.9 876.7 L736.4 874.9 L736.9 873.4 L737.4 872.3 L737.9 871.5 L738.4 870.7 L738.9 869.9 L739.4 869.1 L739.9 868.3 L740.4 867.5 L740.9 866.7 L741.4 865.9 L741.9 865.1 L742.4 864.2 L742.9 863.3 L743.4 862.4 L743.9 861.4 L744.4 860.4 L744.9 859.4 L745.4 858.4 L745.9 857.3 L746.4 856.3 L746.9 855.3 L747.4 854.3 L747.9 853.3 L748.4 852.8 L748.9 852.8 L749.4 853.3 L749.9 854.3 L750.4 855.8 L750.9 857.2 L751.4 858.7 L751.9 860.6 L752.4 863.6 L752.9 867.6 L753.4 872.6 L753.9 878.6 L754.4 885.3 L754.9 891.3 L755.4 895.6 L755.9 898.3 L756.4 899.2 L756.9 898.5 L757.4 896.7 L757.9 894.9 L758.4 892.4 L758.9 889.2 L759.4 885.1 L759.9 880.4 L760.4 874.9 L760.9 869.3 L761.4 864.4 L761.9 860.8 L762.4 858.5 L762.9 857.6 L763.4 858.0 L763.9 859.3 L764.4 860.9 L764.9 863.3 L765.4 866.4 L765.9 870.4 L766.4 875.2 L766.9 880.4 L767.4 885.7 L767.9 890.9 L768.4 895.3 L768.9 898.9 L769.4 901.7 L769.9 903.7 L770.4 904.9 L770.9 906.0 L771.4 907.2 L771.9 908.4 L772.4 909.7 L772.9 911.2 L773.4 912.7 L773.9 914.4 L774.4 916.2 L774.9 918.0 L775.4 918.9 L775.9 919.1 L776.4 918.4 L776.9 916.9 L777.4 914.6 L777.9 912.3 L778.4 910.0 L778.9 907.6 L779.4 905.2 L779.9 902.7 L780.4 900.2 L780.9 897.7 L781.4 896.0 L781.9 895.1 L782.4 895.0 L782.9 895.7 L783.4 897.2 L783.9 898.7 L784.4 900.1 L784.9 901.6 L785.4 903.1 L785.9 904.6 L786.4 906.1 L786.9 907.7 L787.4 909.2 L787.9 910.7 L788.4 912.3 L788.9 913.9 L789.4 915.3 L789.9 915.9 L790.4 915.8 L790.9 915.0 L791.4 913.5 L791.9 911.3 L792.4 909.2 L792.9 907.0 L793.4 904.8 L793.9 902.6 L794.4 900.4 L794.9 898.2 L795.4 895.9 L795.9 893.6 L796.4 891.4 L796.9 889.1 L797.4 886.8 L797.9 884.5 L798.4 883.2 L798.9 882.7 L799.4 883.2 L799.9 884.5 L800.4 886.8 L800.9 889.1 L801.4 891.3 L801.9 893.6 L802.4 895.7 L802.9 897.6 L803.4 899.4 L803.9 901.0 L804.4 902.4 L804.9 903.9 L805.4 905.4 L805.9 906.9 L806.4 908.4 L806.9 909.9 L807.4 911.2 L807.9 911.8 L808.4 911.7 L808.9 910.9 L809.4 909.3 L809.9 907.2 L810.4 905.1 L810.9 902.6 L811.4 899.4 L811.9 895.5 L812.4 891.0 L812.9 885.8 L813.4 880.3 L813.9 875.0 L814.4 870.6 L814.9 867.0 L815.4 864.3 L815.9 862.4 L816.4 861.2 L816.9 860.0 L817.4 859.0 L817.9 858.2 L818.4 857.7 L818.9 857.3 L819.4 857.2 L819.9 857.1 L820.4 857.0 L820.9 856.8 L821.4 856.7 L821.9 856.6 L822.4 856.7 L822.9 857.0 L823.4 857.5 L823.9 858.3 L824.4 859.3 L824.9 860.4 L825.4 861.4 L825.9 862.3 L826.4 863.1 L826.9 863.8 L827.4 864.3 L827.9 864.7 L828.4 865.0 L828.9 865.3 L829.4 865.6 L829.9 866.6 L830.4 868.1 L830.9 870.3 L831.4 873.1 L831.9 876.5 L832.4 879.9 L832.9 883.3 L833.4 885.7 L833.9 886.4 L834.4 885.4 L834.9 882.8 L835.4 878.6 L835.9 873.6 L836.4 868.7 L836.9 865.7 L837.4 864.6 L837.9 865.5 L838.4 868.4 L838.9 873.2 L839.4 878.0 L839.9 882.3 L840.4 886.0 L840.9 889.2 L841.4 891.9 L841.9 894.1 L842.4 896.2 L842.9 898.4 L843.4 900.4 L843.9 902.1 L844.4 903.4 L844.9 904.4 L845.4 905.1 L845.9 905.5 L846.4 905.9 L846.9 906.4 L847.4 906.8 L847.9 906.9 L848.4 906.8 L848.9 906.3 L849.4 905.5 L849.9 904.4 L850.4 903.3 L850.9 902.1 L851.4 901.0 L851.9 899.9 L852.4 898.2 L852.9 895.8 L853.4 892.8 L853.9 889.1 L854.4 884.8 L854.9 880.5 L855.4 876.2 L855.9 872.0 L856.4 868.3 L856.9 865.0 L857.4 862.1 L857.9 859.6 L858.4 857.7 L858.9 856.4 L859.4 855.8 L859.9 855.9 L860.4 856.7 L860.9 857.8 L861.4 859.0 L861.9 860.2 L862.4 861.6 L862.9 863.1 L863.4 864.7 L863.9 866.5 L864.4 868.5 L864.9 870.5 L865.4 872.5 L865.9 874.7 L866.4 877.4 L866.9 880.7 L867.4 884.5 L867.9 888.4 L868.4 891.5 L868.9 893.5 L869.4 894.2 L869.9 893.9 L870.4 892.8 L870.9 891.8 L871.4 890.7 L871.9 889.7 L872.4 888.2 L872.9 886.2 L873.4 883.8 L873.9 880.8 L874.4 877.5 L874.9 874.1 L875.4 870.7 L875.9 867.3 L876.4 863.9 L876.9 860.6 L877.4 858.4 L877.9 857.3 L878.4 857.4 L878.9 858.7 L879.4 861.2 L879.9 863.7 L880.4 866.2 L880.9 868.9 L881.4 872.3 L881.9 876.4 L882.4 881.2 L882.9 886.7 L883.4 892.6 L883.9 898.5 L884.4 903.3 L884.9 907.2 L885.4 910.0 L885.9 911.9 L886.4 912.8 L886.9 913.6 L887.4 914.5 L887.9 915.3 L888.4 916.1 L888.9 916.3 L889.4 916.1 L889.9 915.3 L890.4 914.1 L890.9 912.5 L891.4 910.9 L891.9 909.2 L892.4 907.6 L892.9 906.0 L893.4 904.4 L893.9 903.2 L894.4 902.4 L894.9 901.9 L895.4 901.9 L895.9 902.1 L896.4 902.3 L896.9 902.5 L897.4 902.7 L897.9 902.9 L898.4 903.1 L898.9 903.3 L899.4 903.5 L899.9 903.5 L900.4 903.3 L900.9 902.8 L901.4 902.1 L901.9 901.1 L902.4 900.0 L902.9 898.9 L903.4 897.7 L903.9 895.5 L904.4 892.4 L904.9 888.3 L905.4 883.3 L905.9 877.5 L906.4 871.7 L906.9 867.5 L907.4 865.2 L907.9 864.8 L908.4 866.4 L908.9 869.9 L909.4 873.8 L909.9 877.8 L910.4 881.9 L910.9 886.3 L911.4 890.9 L911.9 895.6 L912.4 900.5 L912.9 905.4 L913.4 909.0 L913.9 911.4 L914.4 912.5 L914.9 912.3 L915.4 910.8 L915.9 909.4 L916.4 907.9 L916.9 906.5 L917.4 905.0 L917.9 903.4 L918.4 901.6 L918.9 899.7 L919.4 897.8 L919.9 895.7 L920.4 893.6 L920.9 891.6 L921.4 889.5 L921.9 888.2 L922.4 887.8 L922.9 888.4 L923.4 889.8 L923.9 892.2 L924.4 894.8 L924.9 897.4 L925.4 900.0 L925.9 902.5 L926.4 904.5 L926.9 905.9 L927.4 906.7 L927.9 906.9 L928.4 906.5 L928.9 906.1 L929.4 905.7 L929.9 905.3 L930.4 904.9 L930.9 904.5 L931.4 904.1 L931.9 903.7 L932.4 902.8 L932.9 900.6 L933.4 897.0 L933.9 892.2 L934.4 886.0 L934.9 879.1 L935.4 872.1 L935.9 865.2 L936.4 859.9 L936.9 856.4 L937.4 854.5 L937.9 854.3 L938.4 855.8 L938.9 857.2 L939.4 858.7 L939.9 860.6 L940.4 863.3 L940.9 866.8 L941.4 871.2 L941.9 876.5 L942.4 882.2 L942.9 887.3 L943.4 891.8 L943.9 895.8 L944.4 899.2 L944.9 902.1 L945.4 905.0 L945.9 906.7 L946.4 906.9 L946.9 905.5 L947.4 902.5 L947.9 898.0 L948.4 893.2 L948.9 888.3 L949.4 883.5 L949.9 878.9 L950.4 875.6 L950.9 873.5 L951.4 872.7 L951.9 873.1 L952.4 874.4 L952.9 875.8 L953.4 877.2 L953.9 878.6 L954.4 879.4 L954.9 879.7 L955.4 879.3 L955.9 878.4 L956.4 876.9 L956.9 875.4 L957.4 873.9 L957.9 872.4 L958.4 870.9 L958.9 869.5 L959.4 868.2 L959.9 867.0 L960.4 865.9 L960.9 864.9 L961.4 863.9 L961.9 862.9 L962.4 861.9 L962.9 860.9 L963.4 860.0 L963.9 859.3 L964.4 859.3 L964.9 859.9 L965.4 861.1 L965.9 862.9 L966.4 864.9 L966.9 866.9 L967.4 869.0 L967.9 871.5 L968.4 874.4 L968.9 877.7 L969.4 881.3 L969.9 885.3 L970.4 889.2 L970.9 893.2 L971.4 897.0 L971.9 900.5 L972.4 903.7 L972.9 906.7 L973.4 909.3 L973.9 911.9 L974.4 914.3 L974.9 915.9 L975.4 916.8 L975.9 916.9 L976.4 916.2 L976.9 915.0 L977.4 913.6 L977.9 911.4 L978.4 908.3 L978.9 904.5 L979.4 899.8 L979.9 894.5 L980.4 889.2 L980.9 885.0 L981.4 882.8 L981.9 882.5 L982.4 884.2 L982.9 887.8 L983.4 892.2 L983.9 896.2 L984.4 899.8 L984.9 902.8 L985.4 905.2 L985.9 907.1 L986.4 908.8 L986.9 910.5 L987.4 912.2 L987.9 913.9 L988.4 915.6 L988.9 917.0 L989.4 918.0 L989.9 918.5 L990.4 918.5 L990.9 918.0 L991.4 917.4 L991.9 916.8 L992.4 916.1 L992.9 915.5 L993.4 914.9 L993.9 914.2 L994.4 913.5 L994.9 912.7 L995.4 911.9 L995.9 910.9 L996.4 909.8 L996.9 908.7 L997.4 907.6 L997.9 906.5 L998.4 905.4 L998.9 904.3 L999.4 903.2 L999.9 902.2 L1000.4 901.3 L1000.9 900.4 L1001.4 899.5 L1001.9 898.6 L1002.4 897.7 L1002.9 896.8 L1003.4 895.9 L1003.9 895.0 L1004.4 894.2 L1004.9 893.4 L1005.4 892.7 L1005.9 892.2 L1006.4 891.7 L1006.9 891.3 L1007.4 890.8 L1007.9 890.4 L1008.4 890.0 L1008.9 889.6 L1009.4 889.4 L1009.9 889.4 L1010.4 889.5 L1010.9 889.8 L1011.4 890.2 L1011.9 890.6 L1012.4 891.0 L1012.9 891.3 L1013.4 891.7 L1013.9 892.3 L1014.4 893.2 L1014.9 894.5 L1015.4 896.2 L1015.9 898.4 L1016.4 900.7 L1016.9 903.1 L1017.4 905.5 L1017.9 906.9 L1018.4 907.4 L1018.9 907.0 L1019.4 905.6 L1019.9 903.3 L1020.4 901.0 L1020.9 898.7 L1021.4 896.4 L1021.9 894.3 L1022.4 892.3 L1022.9 890.4 L1023.4 888.6 L1023.9 886.9 L1024.4 885.2 L1024.9 884.5 L1025.4 885.1 L1025.9 887.1 L1026.4 890.3 L1026.9 894.8 L1027.4 899.6 L1027.9 903.4 L1028.4 905.8 L1028.9 906.8 L1029.4 906.6 L1029.9 905.0 L1030.4 903.1 L1030.9 901.2 L1031.4 899.5 L1031.9 898.1 L1032.4 897.1 L1032.9 896.3 L1033.4 895.9 L1033.9 895.8 L1034.4 895.6 L1034.9 895.4 L1035.4 894.3 L1035.9 892.3 L1036.4 889.3 L1036.9 885.5 L1037.4 880.7 L1037.9 875.9 L1038.4 871.2 L1038.9 867.1 L1039.4 864.5 L1039.9 863.5 L1040.4 864.1 L1040.9 866.3 L1041.4 869.5 L1041.9 872.6 L1042.4 874.7 L1042.9 875.8 L1043.4 875.8 L1043.9 874.7 L1044.4 872.6 L1044.9 870.5 L1045.4 868.5 L1045.9 866.5 L1046.4 865.1 L1046.9 864.2 L1047.4 864.0 L1047.9 864.3 L1048.4 865.0 L1048.9 865.8 L1049.4 866.5 L1049.9 867.3 L1050.4 868.1 L1050.9 869.1 L1051.4 870.2 L1051.9 871.3 L1052.4 872.6 L1052.9 873.8 L1053.4 875.1 L1053.9 876.4 L1054.4 877.6 L1054.9 878.9 L1055.4 880.8 L1055.9 883.4 L1056.4 886.6 L1056.9 890.6 L1057.4 895.1 L1057.9 899.1 L1058.4 902.2 L1058.9 904.5 L1059.4 905.9 L1059.9 906.6 L1060.4 907.1 L1060.9 907.6 L1061.4 908.1 L1061.9 908.6 L1062.4 909.1 L1062.9 909.7 L1063.4 910.2 L1063.9 910.8 L1064.4 911.3 L1064.9 911.9 L1065.4 912.4 L1065.9 913.0 L1066.4 913.5 L1066.9 914.1 L1067.4 914.0 L1067.9 913.2 L1068.4 911.8 L1068.9 909.7 L1069.4 907.0 L1069.9 904.3 L1070.4 901.2 L1070.9 897.6 L1071.4 893.4 L1071.9 888.6 L1072.4 883.3 L1072.9 878.5 L1073.4 875.0 L1073.9 872.7 L1074.4 871.8 L1074.9 872.0 L1075.4 872.4 L1075.9 872.2 L1076.4 871.4 L1076.9 869.9 L1077.4 867.9 L1077.9 865.6 L1078.4 863.2 L1078.9 860.9 L1079.4 859.1 L1079.9 857.6 L1080.4 856.6 L1080.9 856.0 L1081.4 855.9 L1081.9 855.8 L1082.4 855.6 L1082.9 855.5 L1083.4 855.4 L1083.9 855.3 L1084.4 855.8 L1084.9 857.1 L1085.4 859.1 L1085.9 861.8 L1086.4 865.1 L1086.9 868.5 L1087.4 871.9 L1087.9 875.4 L1088.4 879.3 L1088.9 883.4 L1089.4 887.8 L1089.9 892.5 L1090.4 896.8 L1090.9 900.4 L1091.4 903.2 L1091.9 905.3 L1092.4 906.6 L1092.9 907.1 L1093.4 906.7 L1093.9 905.5 L1094.4 903.4 L1094.9 900.5 L1095.4 897.3 L1095.9 894.0 L1096.4 890.7 L1096.9 887.5 L1097.4 884.2 L1097.9 881.4 L1098.4 879.4 L1098.9 878.1 L1099.4 877.6 L1099.9 877.8 L1100.4 878.4 L1100.9 878.9 L1101.4 880.1 L1101.9 881.8 L1102.4 884.2 L1102.9 887.1 L1103.4 890.7 L1103.9 894.3 L1104.4 897.0 L1104.9 899.0 L1105.4 900.1 L1105.9 900.4 L1106.4 899.9 L1106.9 899.5 L1107.4 899.0 L1107.9 898.3 L1108.4 897.2 L1108.9 895.7 L1109.4 893.8 L1109.9 891.4 L1110.4 888.8 L1110.9 886.1 L1111.4 883.5 L1111.9 880.9 L1112.4 878.2 L1112.9 875.7 L1113.4 873.3 L1113.9 871.0 L1114.4 868.9 L1114.9 867.0 L1115.4 865.1 L1115.9 863.3 L1116.4 862.2 L1116.9 862.0 L1117.4 862.6 L1117.9 863.9 L1118.4 866.1 L1118.9 868.3 L1119.4 870.5 L1119.9 872.9 L1120.4 875.3 L1120.9 877.8 L1121.4 880.4 L1121.9 882.9 L1122.4 885.5 L1122.9 888.1 L1123.4 890.7 L1123.9 893.1 L1124.4 895.3 L1124.9 897.2 L1125.4 898.9 L1125.9 900.3 L1126.4 901.7 L1126.9 903.1 L1127.4 904.5 L1127.9 905.9 L1128.4 907.3 L1128.9 908.7 L1129.4 909.3 L1129.9 909.2 L1130.4 908.4 L1130.9 906.7 L1131.4 904.3 L1131.9 901.9 L1132.4 899.5 L1132.9 897.2 L1133.4 894.8 L1133.9 892.4 L1134.4 890.6 L1134.9 889.5 L1135.4 889.0 L1135.9 889.1 L1136.4 889.8 L1136.9 890.6 L1137.4 891.3 L1137.9 892.0 L1138.4 892.8 L1138.9 893.5 L1139.4 893.8 L1139.9 893.7 L1140.4 893.1 L1140.9 892.2 L1141.4 890.7 L1141.9 889.3 L1142.4 887.9 L1142.9 886.3 L1143.4 884.1 L1143.9 881.3 L1144.4 877.8 L1144.9 873.6 L1145.4 869.0 L1145.9 864.3 L1146.4 860.7 L1146.9 858.0 L1147.4 856.4 L1147.9 855.8 L1148.4 856.2 L1148.9 856.6 L1149.4 857.1 L1149.9 857.5 L1150.4 857.9 L1150.9 858.3 L1151.4 858.7 L1151.9 859.4 L1152.4 860.5 L1152.9 861.9 L1153.4 863.7 L1153.9 865.8 L1154.4 868.0 L1154.9 870.2 L1155.4 872.4 L1155.9 874.3 L1156.4 876.0 L1156.9 877.5 L1157.4 878.7 L1157.9 879.7 L1158.4 880.8 L1158.9 881.8 L1159.4 883.3 L1159.9 885.3 L1160.4 887.7 L1160.9 890.6 L1161.4 894.0 L1161.9 897.4 L1162.4 900.8 L1162.9 903.8 L1163.4 905.4 L1163.9 905.4 L1164.4 903.8 L1164.9 900.8 L1165.4 896.5 L1165.9 892.2 L1166.4 887.9 L1166.9 884.0 L1167.4 880.6 L1167.9 877.9 L1168.4 875.8 L1168.9 874.3 L1169.4 873.0 L1169.9 872.4 L1170.4 872.8 L1170.9 874.3 L1171.4 876.9 L1171.9 880.5 L1172.4 884.6 L1172.9 888.6 L1173.4 892.6 L1173.9 896.7 L1174.4 899.9 L1174.9 901.8 L1175.4 902.2 L1175.9 901.3 L1176.4 899.1 L1176.9 896.3 L1177.4 893.4 L1177.9 890.6 L1178.4 888.4 L1178.9 886.9 L1179.4 886.0 L1179.9 885.7 L1180.4 886.1 L1180.9 886.4 L1181.4 886.8 L1181.9 887.2 L1182.4 887.9 L1182.9 888.7 L1183.4 889.8 L1183.9 891.1 L1184.4 892.4 L1184.9 893.7 L1185.4 895.0 L1185.9 895.4 L1186.4 894.7 L1186.9 892.9 L1187.4 890.2 L1187.9 886.5 L1188.4 882.7 L1188.9 879.0 L1189.4 875.4 L1189.9 872.1 L1190.4 869.2 L1190.9 866.5 L1191.4 864.1 L1191.9 861.8 L1192.4 859.5 L1192.9 858.4 L1193.4 858.4 L1193.9 859.6 L1194.4 861.9 L1194.9 865.3 L1195.4 868.8 L1195.9 872.2 L1196.4 875.6 L1196.9 878.8 L1197.4 881.6 L1197.9 883.9 L1198.4 885.8 L1198.9 887.3 L1199.4 888.6 L1199.9 890.0 L1200.4 891.3 L1200.9 892.1 L1201.4 892.5 L1201.9 892.5 L1202.4 891.9 L1202.9 890.9 L1203.4 890.0 L1203.9 889.0 L1204.4 888.3 L1204.9 888.4 L1205.4 889.3 L1205.9 891.0 L1206.4 893.4 L1206.9 896.3 L1207.4 899.3 L1207.9 902.2 L1208.4 905.1 L1208.9 907.6 L1209.4 909.0 L1209.9 909.4 L1210.4 908.7 L1210.9 907.0 L1211.4 904.6 L1211.9 902.2 L1212.4 899.8 L1212.9 897.5 L1213.4 895.4 L1213.9 893.8 L1214.4 892.5 L1214.9 891.5 L1215.4 891.0 L1215.9 890.4 L1216.4 890.2 L1216.9 890.7 L1217.4 892.1 L1217.9 894.4 L1218.4 897.4 L1218.9 901.0 L1219.4 904.0 L1219.9 905.6 L1220.4 905.8 L1220.9 904.6 L1221.4 902.0 L1221.9 898.6 L1222.4 895.2 L1222.9 891.8 L1223.4 888.5 L1223.9 885.2 L1224.4 881.9 L1224.9 878.8 L1225.4 875.6 L1225.9 872.5 L1226.4 869.4 L1226.9 866.5 L1227.4 864.1 L1227.9 862.2 L1228.4 860.8 L1228.9 859.9 L1229.4 859.4 L1229.9 858.8 L1230.4 858.2 L1230.9 857.6 L1231.4 857.1 L1231.9 856.5 L1232.4 856.0 L1232.9 855.9 L1233.4 856.1 L1233.9 856.6 L1234.4 857.3 L1234.9 858.3 L1235.4 859.3 L1235.9 860.3 L1236.4 861.3 L1236.9 862.5 L1237.4 864.5 L1237.9 867.1 L1238.4 870.5 L1238.9 874.5 L1239.4 879.0 L1239.9 883.4 L1240.4 887.9 L1240.9 891.9 L1241.4 895.3 L1241.9 898.1 L1242.4 900.3 L1242.9 901.9 L1243.4 903.5 L1243.9 904.9 L1244.4 905.7 L1244.9 906.0 L1245.4 905.8 L1245.9 905.0 L1246.4 903.8 L1246.9 902.6 L1247.4 901.4 L1247.9 900.1 L1248.4 899.0 L1248.9 898.1 L1249.4 897.2 L1249.9 896.4 L1250.4 895.8 L1250.9 895.2 L1251.4 894.5 L1251.9 893.9 L1252.4 893.3 L1252.9 892.7 L1253.4 891.7 L1253.9 890.3 L1254.4 888.6 L1254.9 886.6 L1255.4 884.2 L1255.9 881.8 L1256.4 879.3 L1256.9 877.0 L1257.4 874.6 L1257.9 872.4 L1258.4 870.3 L1258.9 868.2 L1259.4 866.2 L1259.9 864.2 L1260.4 862.2 L1260.9 860.2 L1261.4 858.2 L1261.9 856.4 L1262.4 855.3 L1262.9 855.1 L1263.4 855.6 L1263.9 856.9 L1264.4 858.9 L1264.9 860.9 L1265.4 862.9 L1265.9 865.3 L1266.4 868.5 L1266.9 872.4 L1267.4 877.1 L1267.9 882.6 L1268.4 888.3 L1268.9 894.1 L1269.4 899.6 L1269.9 904.2 L1270.4 907.9 L1270.9 910.6 L1271.4 912.3 L1271.9 913.3 L1272.4 914.2 L1272.9 914.9 L1273.4 915.0 L1273.9 914.6 L1274.4 913.7 L1274.9 912.3 L1275.4 910.7 L1275.9 909.1 L1276.4 907.5 L1276.9 905.9 L1277.4 904.8 L1277.9 904.3 L1278.4 904.2 L1278.9 904.7 L1279.4 905.7 L1279.9 906.8 L1280.4 907.8 L1280.9 908.4 L1281.4 908.5 L1281.9 907.9 L1282.4 906.8 L1282.9 905.0 L1283.4 903.0 L1283.9 901.0 L1284.4 899.0 L1284.9 897.2 L1285.4 895.5 L1285.9 893.9 L1286.4 892.5 L1286.9 891.3 L1287.4 890.1 L1287.9 888.8 L1288.4 887.6 L1288.9 886.4 L1289.4 886.1 L1289.9 886.9 L1290.4 888.6 L1290.9 891.4 L1291.4 895.1 L1291.9 898.9 L1292.4 901.8 L1292.9 903.9 L1293.4 905.2 L1293.9 905.7 L1294.4 905.3 L1294.9 904.9 L1295.4 904.5 L1295.9 904.2 L1296.4 903.8 L1296.9 903.4 L1297.4 902.0 L1297.9 899.5 L1298.4 896.0 L1298.9 891.3 L1299.4 885.6 L1299.9 880.0 L1300.4 874.3 L1300.9 868.6 L1301.4 863.4 L1301.9 859.7 L1302.4 857.3 L1302.9 856.3 L1303.4 856.7 L1303.9 857.8 L1304.4 859.0 L1304.9 860.2 L1305.4 862.0 L1305.9 864.3 L1306.4 867.1 L1306.9 870.6 L1307.4 874.6 L1307.9 878.5 L1308.4 882.1 L1308.9 884.4 L1309.4 885.7 L1309.9 885.7 L1310.4 884.6 L1310.9 883.3 L1311.4 882.9 L1311.9 883.6 L1312.4 885.4 L1312.9 888.2 L1313.4 891.6 L1313.9 895.0 L1314.4 898.4 L1314.9 901.8 L1315.4 905.2 L1315.9 908.1 L1316.4 909.9 L1316.9 910.7 L1317.4 910.2 L1317.9 908.7 L1318.4 906.5 L1318.9 904.3 L1319.4 902.1 L1319.9 899.5 L1320.4 896.4 L1320.9 893.0 L1321.4 889.1 L1321.9 884.8 L1322.4 880.5 L1322.9 876.2 L1323.4 872.2 L1323.9 869.0 L1324.4 866.6 L1324.9 865.0 L1325.4 864.2 L1325.9 863.9 L1326.4 863.6 L1326.9 863.2 L1327.4 862.8 L1327.9 862.1 L1328.4 861.3 L1328.9 860.3 L1329.4 859.1 L1329.9 858.0 L1330.4 856.8 L1330.9 855.8 L1331.4 855.3 L1331.9 855.3 L1332.4 855.7 L1332.9 856.6 L1333.4 857.7 L1333.9 858.9 L1334.4 860.1 L1334.9 861.8 L1335.4 864.4 L1335.9 867.8 L1336.4 872.0 L1336.9 877.0 L1337.4 882.1 L1337.9 887.3 L1338.4 892.4 L1338.9 897.6 L1339.4 902.7 L1339.9 906.9 L1340.4 909.9 L1340.9 911.7 L1341.4 912.3 L1341.9 911.7 L1342.4 910.9 L1342.9 910.0 L1343.4 909.1 L1343.9 907.6 L1344.4 905.6 L1344.9 903.1 L1345.4 900.0 L1345.9 896.5 L1346.4 893.0 L1346.9 889.4 L1347.4 885.9 L1347.9 882.4 L1348.4 879.0 L1348.9 876.1 L1349.4 873.7 L1349.9 871.7 L1350.4 870.3 L1350.9 869.2 L1351.4 868.2 L1351.9 867.1 L1352.4 866.8 L1352.9 867.1 L1353.4 868.1 L1353.9 869.8 L1354.4 872.3 L1354.9 874.7 L1355.4 877.1 L1355.9 879.5 L1356.4 881.8 L1356.9 883.9 L1357.4 885.9 L1357.9 887.8 L1358.4 889.6 L1358.9 891.4 L1359.4 892.2 L1359.9 891.8 L1360.4 890.5 L1360.9 888.1 L1361.4 884.6 L1361.9 881.1 L1362.4 877.7 L1362.9 874.2 L1363.4 870.9 L1363.9 868.4 L1364.4 866.8 L1364.9 866.0 L1365.4 866.0 L1365.9 866.7 L1366.4 867.9 L1366.9 869.8 L1367.4 872.3 L1367.9 875.4 L1368.4 878.8 L1368.9 881.4 L1369.4 883.2 L1369.9 884.2 L1370.4 884.4 L1370.9 884.2 L1371.4 883.9 L1371.9 883.7 L1372.4 883.4 L1372.9 883.2 L1373.4 882.9 L1373.9 882.7 L1374.4 883.0 L1374.9 883.8 L1375.4 885.1 L1375.9 887.0 L1376.4 889.5 L1376.9 891.9 L1377.4 894.3 L1377.9 896.7 L1378.4 899.2 L1378.9 901.6 L1379.4 904.1 L1379.9 906.6 L1380.4 909.1 L1380.9 911.1 L1381.4 912.2 L1381.9 912.6 L1382.4 912.2 L1382.9 910.9 L1383.4 909.3 L1383.9 907.8 L1384.4 906.3 L1384.9 905.0 L1385.4 903.8 L1385.9 902.9 L1386.4 902.0 L1386.9 901.3 L1387.4 900.5 L1387.9 899.8 L1388.4 899.0 L1388.9 898.3 L1389.4 897.5 L1389.9 896.8 L1390.4 895.3 L1390.9 893.1 L1391.4 890.2 L1391.9 886.6 L1392.4 882.2 L1392.9 877.9 L1393.4 873.5 L1393.9 869.5 L1394.4 865.8 L1394.9 862.5 L1395.4 859.5 L1395.9 857.2 L1396.4 855.7 L1396.9 855.0 L1397.4 855.1 L1397.9 856.1 L1398.4 858.0 L1398.9 860.4 L1399.4 863.3 L1399.9 866.7 L1400.4 870.6 L1400.9 874.5 L1401.4 876.9 L1401.9 877.8 L1402.4 877.3 L1402.9 875.3 L1403.4 871.9 L1403.9 868.5 L1404.4 865.0 L1404.9 861.6 L1405.4 859.3 L1405.9 858.2 L1406.4 858.2 L1406.9 859.5 L1407.4 861.9 L1407.9 864.2 L1408.4 866.0 L1408.9 867.2 L1409.4 867.7 L1409.9 867.7 L1410.4 867.0 L1410.9 866.4 L1411.4 865.7 L1411.9 865.3 L1412.4 865.7 L1412.9 866.7 L1413.4 868.5 L1413.9 871.0 L1414.4 873.8 L1414.9 876.8 L1415.4 879.8 L1415.9 882.9 L1416.4 886.1 L1416.9 889.3 L1417.4 892.6 L1417.9 895.9 L1418.4 898.1 L1418.9 899.2 L1419.4 899.2 L1419.9 898.1 L1420.4 895.9 L1420.9 893.8 L1421.4 891.6 L1421.9 889.4 L1422.4 888.1 L1422.9 887.7 L1423.4 888.3 L1423.9 889.8 L1424.4 892.2 L1424.9 894.5 L1425.4 896.9 L1425.9 899.3 L1426.4 901.2 L1426.9 901.9 L1427.4 901.5 L1427.9 899.8 L1428.4 897.0 L1428.9 893.5 L1429.4 889.9 L1429.9 886.4 L1430.4 884.3 L1430.9 883.6 L1431.4 884.3 L1431.9 886.4 L1432.4 890.0 L1432.9 893.6 L1433.4 897.1 L1433.9 900.7 L1434.4 904.3 L1434.9 907.9 L1435.4 910.0 L1435.9 910.6 L1436.4 909.8 L1436.9 907.5 L1437.4 903.8 L1437.9 900.1 L1438.4 896.4 L1438.9 892.6 L1439.4 889.1 L1439.9 886.5 L1440.4 884.7 L1440.9 883.9 L1441.4 884.0 L1441.9 884.8 L1442.4 885.6 L1442.9 886.4 L1443.4 886.8 L1443.9 886.9 L1444.4 886.6 L1444.9 885.9 L1445.4 884.9 L1445.9 883.9 L1446.4 882.8 L1446.9 881.8 L1447.4 881.2 L1447.9 881.3 L1448.4 882.1 L1448.9 883.6 L1449.4 885.9 L1449.9 888.4 L1450.4 890.9 L1450.9 893.4 L1451.4 896.0 L1451.9 897.5 L1452.4 897.9 L1452.9 897.4 L1453.4 895.8 L1453.9 893.2 L1454.4 890.6 L1454.9 888.0 L1455.4 885.4 L1455.9 882.8 L1456.4 880.2 L1456.9 878.0 L1457.4 876.7 L1457.9 876.2 L1458.4 876.7 L1458.9 878.0 L1459.4 879.9 L1459.9 881.8 L1460.4 883.6 L1460.9 885.5 L1461.4 887.4 L1461.9 889.3 L1462.4 891.2 L1462.9 892.6 L1463.4 893.4 L1463.9 893.7 L1464.4 893.4 L1464.9 892.5 L1465.4 891.5 L1465.9 890.6 L1466.4 889.6 L1466.9 888.6 L1467.4 888.0 L1467.9 887.9 L1468.4 888.2 L1468.9 889.0 L1469.4 890.1 L1469.9 891.3 L1470.4 892.5 L1470.9 893.3 L1471.4 893.7 L1471.9 893.5 L1472.4 892.8 L1472.9 891.6 L1473.4 890.2 L1473.9 888.8 L1474.4 887.4 L1474.9 886.3 L1475.4 886.0 L1475.9 886.4 L1476.4 887.7 L1476.9 889.7 L1477.4 892.2 L1477.9 894.7 L1478.4 897.3 L1478.9 899.8 L1479.4 902.3 L1479.9 904.8 L1480.4 906.5 L1480.9 907.5 L1481.4 907.6 L1481.9 907.0 L1482.4 905.7 L1482.9 904.3 L1483.4 902.9 L1483.9 901.5 L1484.4 900.1 L1484.9 898.8 L1485.4 897.4 L1485.9 895.8 L1486.4 893.6 L1486.9 890.8 L1487.4 887.5 L1487.9 883.5 L1488.4 879.2 L1488.9 874.9 L1489.4 870.7 L1489.9 866.4 L1490.4 862.1 L1490.9 858.4 L1491.4 855.7 L1491.9 854.0 L1492.4 853.3 L1492.9 853.6 L1493.4 854.2 L1493.9 854.9 L1494.4 855.6 L1494.9 856.3 L1495.4 857.0 L1495.9 857.6 L1496.4 858.4 L1496.9 859.2 L1497.4 860.1 L1497.9 861.0 L1498.4 862.0 L1498.9 863.0 L1499.4 864.1 L1499.9 865.1 L1500.4 866.4 L1500.9 868.6 L1501.4 871.7 L1501.9 875.6 L1502.4 880.3 L1502.9 885.6 L1503.4 889.8 L1503.9 892.2 L1504.4 892.9 L1504.9 891.8 L1505.4 889.0 L1505.9 885.4 L1506.4 881.9 L1506.9 878.3 L1507.4 874.8 L1507.9 872.2 L1508.4 870.6 L1508.9 869.9 L1509.4 870.2 L1509.9 871.4 L1510.4 872.7 L1510.9 873.9 L1511.4 874.7 L1511.9 875.1 L1512.4 875.0 L1512.9 874.5 L1513.4 873.6 L1513.9 872.6 L1514.4 871.7 L1514.9 870.9 L1515.4 870.4 L1515.9 870.2 L1516.4 870.4 L1516.9 871.0 L1517.4 871.7 L1517.9 873.2 L1518.4 875.9 L1518.9 879.9 L1519.4 885.1 L1519.9 891.6 L1520.4 897.1 L1520.9 901.2 L1521.4 903.9 L1521.9 905.2 L1522.4 905.0 L1522.9 904.9 L1523.4 904.8 L1523.9 904.6 L1524.4 904.5 L1524.9 904.3 L1525.4 903.2 L1525.9 901.2 L1526.4 898.2 L1526.9 894.2 L1527.4 889.3 L1527.9 884.5 L1528.4 879.6 L1528.9 874.7 L1529.4 870.1 L1529.9 866.3 L1530.4 863.2 L1530.9 860.8 L1531.4 859.2 L1531.9 858.1 L1532.4 856.9 L1532.9 855.7 L1533.4 854.6 L1533.9 853.7 L1534.4 853.4 L1534.9 853.7 L1535.4 854.4 L1535.9 855.7 L1536.4 857.2 L1536.9 858.8 L1537.4 860.3 L1537.9 861.8 L1538.4 864.4 L1538.9 868.2 L1539.4 873.1 L1539.9 879.1 L1540.4 886.3 L1540.9 893.5 L1541.4 900.7 L1541.9 906.3 L1542.4 910.5 L1542.9 913.1 L1543.4 914.3 L1543.9 913.9 L1544.4 913.6 L1544.9 913.2 L1545.4 912.9 L1545.9 912.5 L1546.4 912.2 L1546.9 911.2 L1547.4 909.3 L1547.9 906.4 L1548.4 902.6 L1548.9 897.8 L1549.4 892.6 L1549.9 887.4 L1550.4 883.2 L1550.9 880.5 L1551.4 879.4 L1551.9 879.9 L1552.4 882.0 L1552.9 884.6 L1553.4 887.3 L1553.9 890.0 L1554.4 892.6 L1554.9 895.1 L1555.4 897.2 L1555.9 898.8 L1556.4 899.9 L1556.9 900.6 L1557.4 901.0 L1557.9 901.4 L1558.4 901.7 L1558.9 901.8 L1559.4 901.6 L1559.9 901.2 L1560.4 900.5 L1560.9 899.7 L1561.4 898.9 L1561.9 897.7 L1562.4 895.6 L1562.9 892.6 L1563.4 888.7 L1563.9 883.8 L1564.4 878.5 L1564.9 873.1 L1565.4 867.8 L1565.9 863.2 L1566.4 859.6 L1566.9 856.9 L1567.4 855.1 L1567.9 854.4 L1568.4 853.8 L1568.9 853.2 L1569.4 852.6 L1569.9 852.1 L1570.4 851.6 L1570.9 851.2 L1571.4 851.0 L1571.9 850.9 L1572.4 850.9 L1572.9 850.9 L1573.4 850.9 L1573.9 850.9 L1574.4 850.9 L1574.9 850.9 L1575.4 850.9 L1575.9 850.9 L1576.4 850.9 L1576.9 850.9 L1577.4 851.2 L1577.9 851.9 L1578.4 853.1 L1578.9 854.7 L1579.4 856.9 L1579.9 859.1 L1580.4 861.4 L1580.9 863.7 L1581.4 866.0 L1581.9 868.0 L1582.4 869.6 L1582.9 870.9 L1583.4 871.9 L1583.9 872.5 L1584.4 873.1 L1584.9 873.7 L1585.4 874.4 L1585.9 875.0 L1586.4 875.6 L1586.9 876.3 L1587.4 876.9 L1587.9 877.8 L1588.4 878.7 L1588.9 879.8 L1589.4 881.1 L1589.9 882.4 L1590.4 883.7 L1590.9 885.0 L1591.4 886.3 L1591.9 887.7 L1592.4 889.0 L1592.9 890.3 L1593.4 891.6 L1593.9 893.0 L1594.4 894.3 L1594.9 895.7 L1595.4 897.0 L1595.9 898.3 L1596.4 898.3 L1596.9 897.0 L1597.4 894.4 L1597.9 890.5 L1598.4 885.2 L1598.9 880.0 L1599.4 874.7 L1599.9 869.4 L1600.4 864.4 L1600.9 860.6 L1601.4 858.0 L1601.9 856.6 L1602.4 856.3 L1602.9 857.1 L1603.4 857.7 L1603.9 857.9 L1604.4 857.8 L1604.9 857.4 L1605.4 856.6 L1605.9 855.6 L1606.4 854.6 L1606.9 853.7 L1607.4 852.7 L1607.9 852.0 L1608.4 851.9 L1608.9 852.3 L1609.4 853.2 L1609.9 854.7 L1610.4 856.4 L1610.9 858.1 L1611.4 859.7 L1611.9 861.4 L1612.4 863.0 L1612.9 864.6 L1613.4 866.0 L1613.9 867.4 L1614.4 868.8 L1614.9 870.1 L1615.4 871.4 L1615.9 872.7 L1616.4 874.0 L1616.9 875.3 L1617.4 876.6 L1617.9 877.9 L1618.4 879.2 L1618.9 880.4 L1619.4 881.7 L1619.9 882.9 L1620.4 884.2 L1620.9 885.5 L1621.4 886.7 L1621.9 888.0 L1622.4 888.8 L1622.9 889.0 L1623.4 888.5 L1623.9 887.4 L1624.4 885.6 L1624.9 883.5 L1625.4 881.4 L1625.9 879.3 L1626.4 877.2 L1626.9 875.1 L1627.4 873.1 L1627.9 871.8 L1628.4 871.0 L1628.9 870.9 L1629.4 871.5 L1629.9 872.5 L1630.4 873.5 L1630.9 874.8 L1631.4 877.2 L1631.9 880.9 L1632.4 885.7 L1632.9 891.7 L1633.4 897.5 L1633.9 901.5 L1634.4 903.6 L1634.9 903.7 L1635.4 902.1 L1635.9 899.6 L1636.4 897.2 L1636.9 894.8 L1637.4 892.3 L1637.9 889.9 L1638.4 888.2 L1638.9 887.4 L1639.4 887.4 L1639.9 888.2 L1640.4 889.9 L1640.9 891.5 L1641.4 893.1 L1641.9 894.7 L1642.4 896.4 L1642.9 897.1 L1643.4 896.8 L1643.9 895.7 L1644.4 893.6 L1644.9 890.6 L1645.4 887.6 L1645.9 884.6 L1646.4 881.6 L1646.9 878.6 L1647.4 875.6 L1647.9 872.6 L1648.4 870.1 L1648.9 868.7 L1649.4 868.4 L1649.9 869.4 L1650.4 871.4 L1650.9 874.2 L1651.4 877.2 L1651.9 880.6 L1652.4 884.4 L1652.9 888.6 L1653.4 893.2 L1653.9 898.0 L1654.4 902.7 L1654.9 906.6 L1655.4 909.0 L1655.9 909.8 L1656.4 909.1 L1656.9 906.9 L1657.4 904.1 L1657.9 901.3 L1658.4 898.5 L1658.9 895.7 L1659.4 892.9 L1659.9 890.0 L1660.4 887.1 L1660.9 884.1 L1661.4 881.0 L1661.9 877.8 L1662.4 874.5 L1662.9 871.2 L1663.4 867.9 L1663.9 864.6 L1664.4 861.7 L1664.9 859.6 L1665.4 858.1 L1665.9 857.4 L1666.4 857.4 L1666.9 857.6 L1667.4 857.9 L1667.9 858.2 L1668.4 858.4 L1668.9 859.0 L1669.4 859.8 L1669.9 861.0 L1670.4 862.6 L1670.9 864.5 L1671.4 866.4 L1671.9 868.4 L1672.4 870.3 L1672.9 872.3 L1673.4 874.2 L1673.9 876.3 L1674.4 878.8 L1674.9 881.6 L1675.4 884.8 L1675.9 888.3 L1676.4 892.0 L1676.9 894.6 L1677.4 895.1 L1677.9 893.7 L1678.4 890.3 L1678.9 884.9 L1679.4 878.7 L1679.9 872.5 L1680.4 867.2 L1680.9 863.4 L1681.4 861.0 L1681.9 860.2 L1682.4 860.8 L1682.9 862.1 L1683.4 863.3 L1683.9 865.1 L1684.4 867.7 L1684.9 871.3 L1685.4 875.7 L1685.9 881.0 L1686.4 886.7 L1686.9 892.2 L1687.4 896.8 L1687.9 900.7 L1688.4 903.8 L1688.9 906.1 L1689.4 907.7 L1689.9 909.3 L1690.4 911.0 L1690.9 912.6 L1691.4 913.9 L1691.9 914.5 L1692.4 914.6 L1692.9 914.1 L1693.4 913.0 L1693.9 911.7 L1694.4 910.3 L1694.9 909.0 L1695.4 907.3 L1695.9 904.9 L1696.4 901.8 L1696.9 897.9 L1697.4 893.2 L1697.9 888.1 L1698.4 883.0 L1698.9 877.9 L1699.4 874.1 L1699.9 871.7 L1700.4 870.6 L1700.9 870.8 L1701.4 872.3 L1701.9 873.8 L1702.4 875.3 L1702.9 877.1 L1703.4 879.3 L1703.9 882.0 L1704.4 885.2 L1704.9 888.9 L1705.4 893.0 L1705.9 895.6 L1706.4 896.8 L1706.9 896.7 L1707.4 895.1 L1707.9 892.2 L1708.4 889.3 L1708.9 886.3 L1709.4 883.5 L1709.9 880.9 L1710.4 878.4 L1710.9 876.1 L1711.4 873.9 L1711.9 871.8 L1712.4 869.8 L1712.9 867.8 L1713.4 866.1 L1713.9 864.6 L1714.4 863.4 L1714.9 862.3 L1715.4 861.4 L1715.9 860.4 L1716.4 859.5 L1716.9 858.6 L1717.4 857.9 L1717.9 857.2 L1718.4 856.6 L1718.9 856.1 L1719.4 855.6 L1719.9 855.0 L1720.4 854.5 L1720.9 854.0 L1721.4 853.5 L1721.9 853.1 L1722.4 852.6 L1722.9 852.2 L1723.5 850.8" stroke="#f00000" stroke-width="1" fill="none" shape-rendering="crispEdges"/>
<rect x="5.5" y="844.5" width="47" height="14" fill="#fff" stroke="#000" shape-rendering="crispEdges"/>
<rect x="55.5" y="845.5" width="12" height="12" fill="#fff" stroke="#000" shape-rendering="crispEdges"/>
<path d="M58 851.5H65M61.5 848V855" stroke="#000" stroke-width="2" shape-rendering="crispEdges"/>
<rect x="8" y="861" width="21" height="12" fill="#fff"/>
<rect x="8" y="876" width="21" height="12" fill="#fff"/>
<g shape-rendering="crispEdges" fill="#a8a8a8">
<rect x="1838" y="43" width="3" height="1"/>
<rect x="1838" y="97" width="3" height="1"/>
<rect x="1838" y="151" width="3" height="1"/>
<rect x="1838" y="206" width="3" height="1"/>
<rect x="1838" y="260" width="3" height="1"/>
<rect x="1838" y="314" width="3" height="1"/>
<rect x="1838" y="369" width="3" height="1"/>
<rect x="1838" y="423" width="3" height="1"/>
<rect x="1838" y="477" width="3" height="1"/>
<rect x="1838" y="532" width="3" height="1"/>
<rect x="1838" y="586" width="3" height="1"/>
<rect x="1838" y="641" width="3" height="1"/>
<rect x="1838" y="695" width="3" height="1"/>
<rect x="1838" y="749" width="3" height="1"/>
<rect x="1838" y="804" width="3" height="1"/>
<rect x="1838" y="885" width="3" height="1"/>
<rect x="1838" y="906" width="3" height="1"/>
<rect x="1838" y="928" width="3" height="1"/>
</g>
<rect x="453.5" y="935.5" width="1364" height="9" fill="#bfdcff" stroke="#8fbdf0" shape-rendering="crispEdges"/>
<g shape-rendering="crispEdges" fill="#b0b0b0">
<rect x="75" y="932" width="1" height="15"/>
<rect x="114" y="932" width="1" height="15"/>
<rect x="152" y="932" width="1" height="15"/>
<rect x="190" y="932" width="1" height="15"/>
<rect x="224" y="932" width="1" height="15"/>
<rect x="260" y="932" width="1" height="15"/>
<rect x="298" y="932" width="1" height="15"/>
<rect x="336" y="932" width="1" height="15"/>
<rect x="376" y="932" width="1" height="15"/>
<rect x="415" y="932" width="1" height="15"/>
<rect x="453" y="932" width="1" height="15"/>
<rect x="491" y="932" width="1" height="15"/>
<rect x="530" y="932" width="1" height="15"/>
<rect x="568" y="932" width="1" height="15"/>
<rect x="607" y="932" width="1" height="15"/>
<rect x="646" y="932" width="1" height="15"/>
<rect x="684" y="932" width="1" height="15"/>
<rect x="721" y="932" width="1" height="15"/>
<rect x="759" y="932" width="1" height="15"/>
<rect x="795" y="932" width="1" height="15"/>
<rect x="834" y="932" width="1" height="15"/>
<rect x="872" y="932" width="1" height="15"/>
<rect x="911" y="932" width="1" height="15"/>
<rect x="948" y="932" width="1" height="15"/>
<rect x="987" y="932" width="1" height="15"/>
<rect x="1025" y="932" width="1" height="15"/>
<rect x="1064" y="932" width="1" height="15"/>
<rect x="1097" y="932" width="1" height="15"/>
<rect x="1136" y="932" width="1" height="15"/>
<rect x="1173" y="932" width="1" height="15"/>
<rect x="1211" y="932" width="1" height="15"/>
<rect x="1251" y="932" width="1" height="15"/>
<rect x="1289" y="932" width="1" height="15"/>
<rect x="1327" y="932" width="1" height="15"/>
<rect x="1365" y="932" width="1" height="15"/>
<rect x="1404" y="932" width="1" height="15"/>
<rect x="1442" y="932" width="1" height="15"/>
<rect x="1479" y="932" width="1" height="15"/>
<rect x="1519" y="932" width="1" height="15"/>
<rect x="1558" y="932" width="1" height="15"/>
<rect x="1596" y="932" width="1" height="15"/>
<rect x="1634" y="932" width="1" height="15"/>
<rect x="1672" y="932" width="1" height="15"/>
<rect x="1710" y="932" width="1" height="15"/>
<rect x="1749" y="932" width="1" height="15"/>
<rect x="1789" y="932" width="1" height="15"/>
<rect x="1822" y="932" width="1" height="15"/>
</g>
<g shape-rendering="crispEdges">
<text x="1843" y="102" font-family="Liberation Sans, sans-serif" font-size="12" fill="#111" letter-spacing="0.2">3.50000</text>
<rect x="1838" y="94" width="77" height="14" fill="#0000f0"/>
<rect x="1838" y="840" width="77" height="14" fill="#f00"/>
<rect x="1838" y="855" width="77" height="14" fill="#000"/>
<rect x="1838" y="101" width="3" height="1" fill="#fff"/><rect x="1838" y="847" width="3" height="1" fill="#fff"/><rect x="1838" y="861" width="3" height="1" fill="#fff"/>
<rect x="1906.5" y="17.5" width="8" height="8" fill="#fff" stroke="#b4b4b4"/><rect x="1908" y="21" width="5" height="1" fill="#b4b4b4"/>
</g>
</svg>
<div class="t " style="left:1843px;top:37px;">3.75000</div>
<div class="t " style="left:1843px;top:145px;">3.25000</div>
<div class="t " style="left:1843px;top:200px;">3.00000</div>
<div class="t " style="left:1843px;top:254px;">2.75000</div>
<div class="t " style="left:1843px;top:308px;">2.50000</div>
<div class="t " style="left:1843px;top:363px;">2.25000</div>
<div class="t " style="left:1843px;top:417px;">2.00000</div>
<div class="t " style="left:1843px;top:471px;">1.75000</div>
<div class="t " style="left:1843px;top:526px;">1.50000</div>
<div class="t " style="left:1843px;top:580px;">1.25000</div>
<div class="t " style="left:1843px;top:635px;">1.00000</div>
<div class="t " style="left:1843px;top:689px;">0.75000</div>
<div class="t " style="left:1843px;top:743px;">0.50000</div>
<div class="t " style="left:1843px;top:798px;">0.25000</div>
<div class="t w" style="left:1843px;top:95px;">3.48346</div>
<div class="t w" style="left:1843px;top:841px;">89.84309</div>
<div class="t w" style="left:1843px;top:856px;">89.11093</div>
<div class="t " style="left:1843px;top:879px;">50.00000</div>
<div class="t " style="left:1843px;top:900px;">25.00000</div>
<div class="t " style="left:6px;top:2px;">23.07.25</div>
<div class="t " style="left:8px;top:845px;">Sto(9/5)</div>
<div class="t " style="left:8px;top:860px;">%K</div>
<div class="t " style="left:8px;top:875px;color:#f00000">%D</div>
<div class="t " style="left:817px;top:848px;color:#101070">80.000</div>
<div class="t " style="left:1183px;top:873px;color:#101070">50.000</div>
<div class="t " style="left:1549px;top:899px;color:#101070">20.000</div>
<div class="t " style="left:1826px;top:934px;">L</div>
<div class="t" style="left:60px;top:934px;width:15px;text-align:right">05</div>
<div class="t" style="left:77.5px;top:934px">18</div>
<div class="t" style="left:99px;top:934px;width:15px;text-align:right">07</div>
<div class="t" style="left:116.5px;top:934px">18</div>
<div class="t" style="left:137px;top:934px;width:15px;text-align:right">09</div>
<div class="t" style="left:154.5px;top:934px">18</div>
<div class="t" style="left:175px;top:934px;width:15px;text-align:right">11</div>
<div class="t" style="left:192.5px;top:934px">18</div>
<div class="t" style="left:209px;top:934px;width:15px;text-align:right">01</div>
<div class="t" style="left:226.5px;top:934px">19</div>
<div class="t" style="left:245px;top:934px;width:15px;text-align:right">03</div>
<div class="t" style="left:262.5px;top:934px">19</div>
<div class="t" style="left:283px;top:934px;width:15px;text-align:right">05</div>
<div class="t" style="left:300.5px;top:934px">19</div>
<div class="t" style="left:321px;top:934px;width:15px;text-align:right">07</div>
<div class="t" style="left:338.5px;top:934px">19</div>
<div class="t" style="left:361px;top:934px;width:15px;text-align:right">09</div>
<div class="t" style="left:378.5px;top:934px">19</div>
<div class="t" style="left:400px;top:934px;width:15px;text-align:right">11</div>
<div class="t" style="left:417.5px;top:934px">19</div>
<div class="t" style="left:438px;top:934px;width:15px;text-align:right">01</div>
<div class="t" style="left:455.5px;top:934px">20</div>
<div class="t" style="left:476px;top:934px;width:15px;text-align:right">03</div>
<div class="t" style="left:493.5px;top:934px">20</div>
<div class="t" style="left:515px;top:934px;width:15px;text-align:right">05</div>
<div class="t" style="left:532.5px;top:934px">20</div>
<div class="t" style="left:553px;top:934px;width:15px;text-align:right">07</div>
<div class="t" style="left:570.5px;top:934px">20</div>
<div class="t" style="left:592px;top:934px;width:15px;text-align:right">09</div>
<div class="t" style="left:609.5px;top:934px">20</div>
<div class="t" style="left:631px;top:934px;width:15px;text-align:right">11</div>
<div class="t" style="left:648.5px;top:934px">20</div>
<div class="t" style="left:669px;top:934px;width:15px;text-align:right">01</div>
<div class="t" style="left:686.5px;top:934px">21</div>
<div class="t" style="left:706px;top:934px;width:15px;text-align:right">03</div>
<div class="t" style="left:723.5px;top:934px">21</div>
<div class="t" style="left:744px;top:934px;width:15px;text-align:right">05</div>
<div class="t" style="left:761.5px;top:934px">21</div>
<div class="t" style="left:780px;top:934px;width:15px;text-align:right">07</div>
<div class="t" style="left:797.5px;top:934px">21</div>
<div class="t" style="left:819px;top:934px;width:15px;text-align:right">09</div>
<div class="t" style="left:836.5px;top:934px">21</div>
<div class="t" style="left:857px;top:934px;width:15px;text-align:right">11</div>
<div class="t" style="left:874.5px;top:934px">21</div>
<div class="t" style="left:896px;top:934px;width:15px;text-align:right">01</div>
<div class="t" style="left:913.5px;top:934px">22</div>
<div class="t" style="left:933px;top:934px;width:15px;text-align:right">03</div>
<div class="t" style="left:950.5px;top:934px">22</div>
<div class="t" style="left:972px;top:934px;width:15px;text-align:right">05</div>
<div class="t" style="left:989.5px;top:934px">22</div>
<div class="t" style="left:1010px;top:934px;width:15px;text-align:right">07</div>
<div class="t" style="left:1027.5px;top:934px">22</div>
<div class="t" style="left:1049px;top:934px;width:15px;text-align:right">09</div>
<div class="t" style="left:1066.5px;top:934px">22</div>
<div class="t" style="left:1082px;top:934px;width:15px;text-align:right">11</div>
<div class="t" style="left:1099.5px;top:934px">22</div>
<div class="t" style="left:1121px;top:934px;width:15px;text-align:right">01</div>
<div class="t" style="left:1138.5px;top:934px">23</div>
<div class="t" style="left:1158px;top:934px;width:15px;text-align:right">03</div>
<div class="t" style="left:1175.5px;top:934px">23</div>
<div class="t" style="left:1196px;top:934px;width:15px;text-align:right">05</div>
<div class="t" style="left:1213.5px;top:934px">23</div>
<div class="t" style="left:1236px;top:934px;width:15px;text-align:right">07</div>
<div class="t" style="left:1253.5px;top:934px">23</div>
<div class="t" style="left:1274px;top:934px;width:15px;text-align:right">09</div>
<div class="t" style="left:1291.5px;top:934px">23</div>
<div class="t" style="left:1312px;top:934px;width:15px;text-align:right">11</div>
<div class="t" style="left:1329.5px;top:934px">23</div>
<div class="t" style="left:1350px;top:934px;width:15px;text-align:right">01</div>
<div class="t" style="left:1367.5px;top:934px">24</div>
<div class="t" style="left:1389px;top:934px;width:15px;text-align:right">03</div>
<div class="t" style="left:1406.5px;top:934px">24</div>
<div class="t" style="left:1427px;top:934px;width:15px;text-align:right">05</div>
<div class="t" style="left:1444.5px;top:934px">24</div>
<div class="t" style="left:1464px;top:934px;width:15px;text-align:right">07</div>
<div class="t" style="left:1481.5px;top:934px">24</div>
<div class="t" style="left:1504px;top:934px;width:15px;text-align:right">09</div>
<div class="t" style="left:1521.5px;top:934px">24</div>
<div class="t" style="left:1543px;top:934px;width:15px;text-align:right">11</div>
<div class="t" style="left:1560.5px;top:934px">24</div>
<div class="t" style="left:1581px;top:934px;width:15px;text-align:right">01</div>
<div class="t" style="left:1598.5px;top:934px">25</div>
<div class="t" style="left:1619px;top:934px;width:15px;text-align:right">03</div>
<div class="t" style="left:1636.5px;top:934px">25</div>
<div class="t" style="left:1657px;top:934px;width:15px;text-align:right">05</div>
<div class="t" style="left:1674.5px;top:934px">25</div>
<div class="t" style="left:1695px;top:934px;width:15px;text-align:right">07</div>
<div class="t" style="left:1712.5px;top:934px">25</div>
<div class="t" style="left:1734px;top:934px;width:15px;text-align:right">09</div>
<div class="t" style="left:1751.5px;top:934px">25</div>
<div class="t" style="left:1774px;top:934px;width:15px;text-align:right">11</div>
<div class="t" style="left:1791.5px;top:934px">25</div>
<div class="t" id="ttl" style="color:#000;left:151px;top:59px;font-weight:bold;font-size:13px;letter-spacing:0.4px">RIPPLE (XRP) USD</div>
<div id="disc" style="position:absolute;left:319px;top:57px;-webkit-text-stroke:0.25px #000;white-space:pre;font-family:'Liberation Serif',serif;font-size:14px;line-height:16px;color:#000;transform-origin:0 0;transform:scaleX(0.7248)">Haftungsausschluss für Inhalte: Alle Trendkanäle bzw. andere Linien, oder Grafiken hier sind keine Empfehlungen, oder Beratung, sondern die zeigen lediglich meine eigene Einschätzung. Alle Chartdaten sind ohne Gewähr.  www.wikifolio.com/de/de/p/cyberwaehrungen</div>
</body></html>
